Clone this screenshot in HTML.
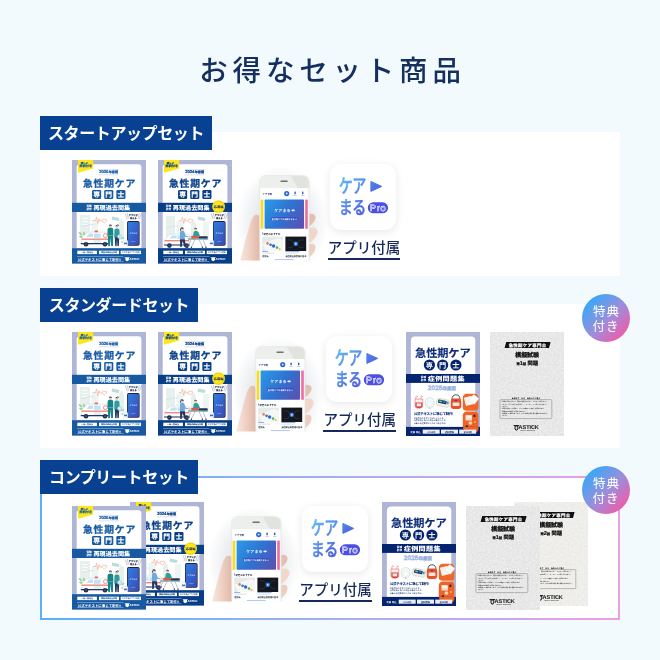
<!DOCTYPE html>
<html lang="ja">
<head>
<meta charset="utf-8">
<title>お得なセット商品</title>
<style>
html,body{margin:0;padding:0;}
body{width:660px;height:660px;overflow:hidden;background:#f2fafe;font-family:"Liberation Sans","Noto Sans CJK JP",sans-serif;}
#stage{will-change:transform;position:relative;width:660px;height:660px;overflow:hidden;background:#f2fafe;}
.abs{position:absolute;}
.abs svg{display:block;overflow:visible;}
svg text{font-family:"Liberation Sans","Noto Sans CJK JP",sans-serif;text-rendering:geometricPrecision;}
h1{position:absolute;left:0;top:51px;width:660px;margin:0;text-align:center;font-size:28.5px;line-height:40px;font-weight:500;letter-spacing:4.8px;color:#15305f;text-indent:5px;white-space:nowrap;}
.panel{position:absolute;left:40px;width:580px;height:144px;background:#fff;box-sizing:border-box;}
.panel.grad{background:linear-gradient(#fff,#fff) padding-box,linear-gradient(90deg,#5ab0fb 0%,#9fb0f0 48%,#eaa0e0 100%) border-box;border:2px solid transparent;}
.label{position:absolute;left:40px;height:34px;background:#084191;color:#fff;font-weight:700;font-size:16px;line-height:36px;letter-spacing:-0.4px;padding:0;text-indent:0px;white-space:nowrap;box-sizing:border-box;text-align:center;}
.badge{position:absolute;left:582px;width:48px;height:48px;border-radius:50%;background:linear-gradient(135deg,#2eaaf8 10%,#9a8fdc 52%,#fa55a4 92%);color:#fff;font-size:12.5px;line-height:15px;text-align:center;letter-spacing:1px;font-weight:400;box-sizing:border-box;padding-top:11px;text-indent:1px;z-index:5;}
.app{position:absolute;text-align:left;font-size:14.5px;line-height:20px;color:#14295a;font-weight:500;letter-spacing:0px;white-space:nowrap;}
.app span{display:inline-block;border-bottom:2px solid #14295a;padding:0;}
.icon{position:absolute;width:66px;height:66px;border-radius:11px;background:#fff;box-shadow:0 2px 9px rgba(30,30,40,.10);}
</style>
</head>
<body>
<div id="stage">
<h1>お得なセット商品</h1>

<div class="panel" style="top:132px"></div>
<div class="label" style="top:116px;width:172px">スタートアップセット</div>
<div class="panel" style="top:304px"></div>
<div class="label" style="top:288px;width:158px">スタンダードセット</div>
<div class="badge" style="top:294px">特典<br>付き</div>
<div class="panel grad" style="top:476px"></div>
<div class="label" style="top:460px;width:158px">コンプリートセット</div>
<div class="badge" style="top:466px">特典<br>付き</div>
<div class="abs" style="left:72px;top:160px;z-index:1"><svg width="592" height="832" viewBox="0 0 74 104" style="transform:scale(0.125);transform-origin:0 0"><defs><linearGradient id="a1pm" x1="0" y1="0" x2="1" y2="1"><stop offset="0" stop-color="#2f7fe0"/><stop offset="1" stop-color="#3b49b4"/></linearGradient></defs><rect width="74" height="104" fill="#afb6d5"/><path d="M4.7,88.4 V7.4 Q4.7,4.2 7.9,4.2 H66.2 Q69.4,4.2 69.4,7.4 V88.4 Z" fill="#fff"/><path d="M6,0 H21.2 V8.6 L6,12.8 Z" fill="#ffe61a"/><text x="12.4" y="3.7" font-size="2.5" font-weight="700" fill="#185ba4" text-anchor="middle" letter-spacing="0.0" stroke="#185ba4" stroke-width="0.14">詳しい</text><text x="13.8" y="7.4" font-size="3.1" font-weight="700" fill="#185ba4" text-anchor="middle" letter-spacing="0.05" stroke="#185ba4" stroke-width="0.14">解説付き</text><rect x="26.4" y="9.1" width="20.6" height="0.6" fill="#bfd0ee"/><rect x="26.4" y="14.6" width="20.6" height="0.6" fill="#bfd0ee"/><text x="27.2" y="13.45" text-anchor="start" fill="#185ba4" stroke="#185ba4" stroke-width="0.22" font-weight="900" font-size="4.2" letter-spacing="-0.02">2026<tspan font-size="3.0" dx="0.35" letter-spacing="0.05">年度版</tspan></text><text x="37.5" y="27.0" font-size="9.8" font-weight="700" fill="#185ba4" text-anchor="middle" letter-spacing="0.85" stroke="#185ba4" stroke-width="0.28">急性期ケア</text><rect x="20.05" y="30" width="9.1" height="9" rx="1.2" fill="#175aa2"/><text x="24.6" y="37.0" font-size="6.8" font-weight="900" fill="#fff" text-anchor="middle">専</text><rect x="32.2" y="30" width="9.1" height="9" rx="1.2" fill="#175aa2"/><text x="36.75" y="37.0" font-size="6.8" font-weight="900" fill="#fff" text-anchor="middle">門</text><rect x="44.35" y="30" width="9.1" height="9" rx="1.2" fill="#175aa2"/><text x="48.9" y="37.0" font-size="6.8" font-weight="900" fill="#fff" text-anchor="middle">士</text><rect x="0" y="42.8" width="74" height="9.2" fill="#175aa2"/><text x="14.4" y="46.6" font-size="2.7" font-weight="900" fill="#fff" text-anchor="start">受験</text><text x="14.4" y="49.8" font-size="2.7" font-weight="900" fill="#fff" text-anchor="start">必修</text><text x="21.4" y="50.1" font-size="6.1" font-weight="900" fill="#fff" text-anchor="start" letter-spacing="0.05">再現過去問集</text><g><rect x="8" y="55" width="10" height="22" fill="#e6f1ee"/><rect x="19.5" y="60" width="7" height="17" fill="#edf5f3"/><path d="M47,80 V62 L49.5,58 L52,62 V80 Z" fill="#e6f1ee"/><rect x="10" y="58" width="6" height="0.8" fill="#fff"/><rect x="10" y="61" width="6" height="0.8" fill="#fff"/><rect x="10" y="64" width="6" height="0.8" fill="#fff"/><path d="M21,60.5 H23.5 L24.5,57 L25.8,63.5 L27,58.5 L27.8,61 H30 C30,58.8 32.2,58.6 32.4,60 C32.8,58.6 34.8,58.8 34.6,60.4 C34.4,61.8 32.6,62.6 32.2,63 C31.6,62.4 30.4,61.6 30,60.8" fill="none" stroke="#ef8a6b" stroke-width="0.45" stroke-linejoin="round"/><rect x="39.8" y="57.2" width="7.4" height="3.2" rx="0.4" fill="#b9dcdc" transform="rotate(12 43.5 58.8)"/><path d="M10,66.5 Q16,64.2 22,64.6" fill="none" stroke="#c6cfe6" stroke-width="0.5"/><path d="M6.5,72 q2.5,0 4,3 q-3,0.5 -4,-3z M11,71.5 q2.6,1 2.6,4.2 q-2.8,-0.8 -2.6,-4.2z M7,76 q2.6,-0.6 4.2,1.6 q-2.8,1 -4.2,-1.6z M10.5,80 l0.8,-6" fill="#8fd08f" stroke="#8fd08f" stroke-width="0.2"/><path d="M49,79 q1.6,-2.6 3.6,-2 q-0.8,2.4 -3.6,2z M48.5,82 q2,-1.4 3.8,-0.2 q-1.6,1.6 -3.8,0.2z" fill="#8fd08f"/><path d="M9.6,83.8 V78.5 Q9.6,77.2 11,76.4 L14,73.4 Q14.8,72.2 16.4,72.2 H35 Q36.4,72.2 36.4,73.6 V83.8 Z" fill="#fff" stroke="#b9c3d6" stroke-width="0.35"/><path d="M14.6,77 L17,73.6 H21 V77 Z" fill="#bfe3f2"/><rect x="22" y="73.6" width="6.6" height="4.2" fill="#bfe3f2"/><rect x="9.6" y="78.6" width="26.8" height="1.1" fill="#ea6a5a"/><rect x="21.6" y="80" width="7.4" height="3.8" fill="#e3f0f6"/><rect x="22.6" y="70.6" width="3.4" height="1.6" rx="0.4" fill="#ea6a5a"/><circle cx="33.4" cy="75.6" r="2" fill="#fff" stroke="#e2695b" stroke-width="0.7"/><rect x="8.6" y="83" width="29" height="1.2" rx="0.4" fill="#24355f"/><circle cx="14" cy="84.2" r="2.3" fill="#1e2c56"/><circle cx="14" cy="84.2" r="0.9" fill="#4a5a86"/><circle cx="33" cy="84.2" r="2.3" fill="#1e2c56"/><circle cx="33" cy="84.2" r="0.9" fill="#4a5a86"/><circle cx="38.4" cy="66.2" r="1.35" fill="#f2c9ae"/><path d="M37,65.8 Q37,64.2 38.6,64.4 Q40,64.4 39.8,66 Q38.6,65 37,65.8z" fill="#23324f"/><path d="M35.6,69.4 Q35.8,68 37.2,67.8 H39.6 Q41,68 41.2,69.4 L41.4,75.6 H35.4 Z" fill="#178585"/><path d="M35.8,75.4 H41.2 L41,86 H39.2 L38.6,77.6 L38,86 H36.2 Z" fill="#178585"/><rect x="35.6" y="86" width="2.6" height="0.9" rx="0.4" fill="#e9eef5"/><rect x="39" y="86" width="2.6" height="0.9" rx="0.4" fill="#e9eef5"/><circle cx="44.8" cy="66.8" r="1.3" fill="#f2c9ae"/><path d="M43.4,66.4 Q43.4,64.8 45,64.9 Q46.6,65 46.2,67 Q45,65.6 43.4,66.4z M45.8,64.6 a0.8,0.8 0 1,0 0.1,0z" fill="#23324f"/><path d="M42.4,70 Q42.6,68.6 44,68.4 H45.8 Q47.2,68.6 47.4,70 L47.8,77.4 H42.2 Z" fill="#2f9d9d"/><path d="M42.8,77.2 H47.2 L46.8,86 H45.4 L45,79 L44.6,86 H43.2 Z" fill="#27345f"/><rect x="42.6" y="86" width="2.2" height="0.9" rx="0.4" fill="#e9eef5"/><rect x="45.2" y="86" width="2.2" height="0.9" rx="0.4" fill="#e9eef5"/><circle cx="47.6" cy="76.6" r="2.1" fill="#cfe8f6" stroke="#8fc4e6" stroke-width="0.5"/></g><g><rect x="55" y="61" width="12.6" height="24.8" rx="1.7" fill="#1d2440"/><rect x="55.7" y="61.9" width="11.2" height="23" rx="1.1" fill="url(#a1pm)"/><text x="61.3" y="73.6" font-size="1.9" font-weight="700" fill="#dbe7ff" text-anchor="middle">ケアまる</text><rect x="59.2" y="81.2" width="4.2" height="0.5" fill="#9db7ee"/><text x="61.3" y="55.6" font-size="2.25" font-weight="900" fill="#1c2546" text-anchor="middle" stroke="#1c2546" stroke-width="0.08">アプリが</text><text x="61.3" y="58.5" font-size="2.25" font-weight="900" fill="#1c2546" text-anchor="middle" stroke="#1c2546" stroke-width="0.08">使える</text><path d="M53.2,53.6 L55.3,59.4 M55.2,53 L56.6,58.8 M69.4,53.6 L67.3,59.4 M67.4,53 L66,58.8" stroke="#26304f" stroke-width="0.25" fill="none"/><rect x="51.2" y="80.4" width="4.6" height="4.6" rx="0.5" fill="#fff" stroke="#b4c6ea" stroke-width="0.3"/><rect x="52" y="82.6" width="3" height="1.6" fill="#3d6fd0"/></g><rect x="0" y="88.2" width="74" height="15.2" fill="#175aa2"/><rect x="5.3" y="90.7" width="19.599999999999998" height="3.4" fill="#fff"/><text x="15.1" y="93.3" font-size="2.0" font-weight="700" fill="#175aa2" text-anchor="middle">一問一答問題</text><rect x="27" y="90.7" width="20" height="3.4" fill="#fff"/><text x="37.0" y="93.3" font-size="2.0" font-weight="700" fill="#175aa2" text-anchor="middle">模擬試験問題収載</text><rect x="48.7" y="90.7" width="20.299999999999997" height="3.4" fill="#fff"/><text x="58.85" y="93.3" font-size="2.0" font-weight="700" fill="#175aa2" text-anchor="middle">スマホ版アプリ対応</text><rect x="5" y="96.2" width="46.4" height="0.4" fill="#dbe6f7"/><rect x="5" y="101.5" width="46.4" height="0.4" fill="#dbe6f7"/><text x="5.8" y="100.6" font-size="3.45" font-weight="700" fill="#fff" text-anchor="start" letter-spacing="0.0">公式テキストに準じて制作!!</text><g transform="translate(53.4,100.2) scale(0.78)"><path d="M0,-3.6 L4.6,-3.6 L4.6,-1.2 Q4.6,0.6 2.3,1.2 Q0,0.6 0,-1.2 Z" fill="#fff"/><path d="M-1.4,-3.9 L6,-3.9 L5.4,-3.1 L-0.8,-3.1 Z" fill="#fff"/><text x="5.2" y="0.2" font-size="3.6" font-weight="700" fill="#fff" text-anchor="start" letter-spacing="-0.1">ASTICK</text></g></svg></div>
<div class="abs" style="left:158px;top:160px;z-index:1"><svg width="592" height="832" viewBox="0 0 74 104" style="transform:scale(0.125);transform-origin:0 0"><defs><linearGradient id="a2pm" x1="0" y1="0" x2="1" y2="1"><stop offset="0" stop-color="#2f7fe0"/><stop offset="1" stop-color="#3b49b4"/></linearGradient></defs><rect width="74" height="104" fill="#afb6d5"/><path d="M4.7,88.4 V7.4 Q4.7,4.2 7.9,4.2 H66.2 Q69.4,4.2 69.4,7.4 V88.4 Z" fill="#fff"/><path d="M6,0 H21.2 V8.6 L6,12.8 Z" fill="#ffe61a"/><text x="12.4" y="3.7" font-size="2.5" font-weight="700" fill="#0b4089" text-anchor="middle" letter-spacing="0.0" stroke="#0b4089" stroke-width="0.14">詳しい</text><text x="13.8" y="7.4" font-size="3.1" font-weight="700" fill="#0b4089" text-anchor="middle" letter-spacing="0.05" stroke="#0b4089" stroke-width="0.14">解説付き</text><rect x="26.4" y="9.1" width="20.6" height="0.6" fill="#bfd0ee"/><rect x="26.4" y="14.6" width="20.6" height="0.6" fill="#bfd0ee"/><text x="27.2" y="13.45" text-anchor="start" fill="#0b4089" stroke="#0b4089" stroke-width="0.22" font-weight="900" font-size="4.2" letter-spacing="-0.02">2024<tspan font-size="3.0" dx="0.35" letter-spacing="0.05">年度版</tspan></text><text x="37.5" y="27.0" font-size="9.8" font-weight="700" fill="#0b4089" text-anchor="middle" letter-spacing="0.85" stroke="#0b4089" stroke-width="0.28">急性期ケア</text><rect x="20.05" y="30" width="9.1" height="9" rx="1.2" fill="#073e86"/><text x="24.6" y="37.0" font-size="6.8" font-weight="900" fill="#fff" text-anchor="middle">専</text><rect x="32.2" y="30" width="9.1" height="9" rx="1.2" fill="#073e86"/><text x="36.75" y="37.0" font-size="6.8" font-weight="900" fill="#fff" text-anchor="middle">門</text><rect x="44.35" y="30" width="9.1" height="9" rx="1.2" fill="#073e86"/><text x="48.9" y="37.0" font-size="6.8" font-weight="900" fill="#fff" text-anchor="middle">士</text><rect x="0" y="42.8" width="74" height="9.2" fill="#073e86"/><text x="7.8" y="46.6" font-size="2.7" font-weight="900" fill="#fff" text-anchor="start">受験</text><text x="7.8" y="49.8" font-size="2.7" font-weight="900" fill="#fff" text-anchor="start">必修</text><text x="14.8" y="50.1" font-size="6.1" font-weight="900" fill="#fff" text-anchor="start" letter-spacing="0.05">再現過去問集</text><circle cx="60.6" cy="46.6" r="6.45" fill="#ffe61a"/><circle cx="60.6" cy="46.6" r="5.4" fill="none" stroke="#26304f" stroke-width="0.2" stroke-dasharray="0.5 0.4"/><text x="60.6" y="47.8" font-size="3.2" font-weight="900" fill="#1c2d5c" text-anchor="middle">応用編</text><g><rect x="8" y="56" width="9" height="24" fill="#e6f1ee"/><rect x="18.5" y="61" width="7" height="19" fill="#edf5f3"/><path d="M33,80 V64 L35.5,60 L38,64 V80 Z" fill="#e6f1ee"/><rect x="45" y="62" width="6" height="18" fill="#edf5f3"/><path d="M21,60.5 H23.5 L24.5,57 L25.8,63.5 L27,58.5 L27.8,61 H30 C30,58.8 32.2,58.6 32.4,60 C32.8,58.6 34.8,58.8 34.6,60.4 C34.4,61.8 32.6,62.6 32.2,63 C31.6,62.4 30.4,61.6 30,60.8" fill="none" stroke="#ef8a6b" stroke-width="0.45" stroke-linejoin="round"/><rect x="39.8" y="57.2" width="7.4" height="3.2" rx="0.4" fill="#b9dcdc" transform="rotate(12 43.5 58.8)"/><path d="M8,68 Q14,65.6 20,66" fill="none" stroke="#c6cfe6" stroke-width="0.5"/><path d="M6.6,85 V80 Q6.6,78.6 8,77.8 L11.4,75 Q12.2,74.2 13.6,74.2 H30 Q31,74.2 31,75.4 V85 Z" fill="#fff" stroke="#b9c3d6" stroke-width="0.35"/><path d="M11.4,78.6 L14,75.4 H18.6 V78.6 Z" fill="#bfe3f2"/><rect x="19.6" y="75.4" width="5" height="3.6" fill="#bfe3f2"/><rect x="6.6" y="80.2" width="24.4" height="1.1" fill="#ea6a5a"/><rect x="6" y="84.4" width="26" height="1.2" rx="0.4" fill="#24355f"/><circle cx="11.4" cy="85.6" r="2.3" fill="#1e2c56"/><circle cx="11.4" cy="85.6" r="0.9" fill="#4a5a86"/><circle cx="28.6" cy="85.6" r="2.3" fill="#1e2c56"/><circle cx="28.6" cy="85.6" r="0.9" fill="#4a5a86"/><circle cx="24" cy="69.2" r="1.4" fill="#f2c9ae"/><path d="M22.4,69 Q22.2,67 24.2,67.2 Q26,67.4 25.6,69.6 Q24.2,68 22.4,69z M22.6,68.6 q-1,1.2 -0.6,2.6 q0.8,-0.6 1,-1.6z" fill="#23324f"/><path d="M22,72.4 Q22.2,71 23.6,70.8 H25 Q26.4,71 26.6,72.4 L27.6,75.6 L30.4,76.4 L30.2,77.2 L26.8,76.8 L26.8,79.4 H22 Z" fill="#6fa9de"/><path d="M22,79.2 H26.8 L28,87 H26.6 L24.6,81 L23.6,87 H22.2 Z" fill="#27345f"/><rect x="30" y="78.6" width="20" height="1" rx="0.4" fill="#2b8a9a"/><path d="M33,79.6 L29.6,87 M37,79.6 L33.4,87 M45,79.6 L48,87 M41,79.6 L44.4,87" stroke="#7a8aa6" stroke-width="0.5" fill="none"/><circle cx="29.6" cy="87.2" r="0.7" fill="#24355f"/><circle cx="48" cy="87.2" r="0.7" fill="#24355f"/><circle cx="33.4" cy="87.2" r="0.7" fill="#24355f"/><circle cx="44.4" cy="87.2" r="0.7" fill="#24355f"/><circle cx="31.8" cy="76.8" r="1.2" fill="#f2c9ae"/><rect x="33.2" y="75.8" width="7.4" height="2.6" rx="1" fill="#e2573f"/><rect x="40.4" y="76.2" width="9.4" height="2.2" rx="0.9" fill="#2a3352"/><circle cx="37.6" cy="69.6" r="1.3" fill="#f2c9ae"/><path d="M36.2,69.2 Q36.2,67.6 37.8,67.8 Q39.2,67.8 39,69.4 Q37.8,68.4 36.2,69.2z" fill="#6b4a3a"/><path d="M35.6,72.6 Q35.8,71.2 37.2,71 H38.6 Q40.2,71.2 40.6,72.6 L42,76 H35.2 Z" fill="#2f9d9d"/></g><g><rect x="55" y="61" width="12.6" height="24.8" rx="1.7" fill="#1d2440"/><rect x="55.7" y="61.9" width="11.2" height="23" rx="1.1" fill="url(#a2pm)"/><text x="61.3" y="73.6" font-size="1.9" font-weight="700" fill="#dbe7ff" text-anchor="middle">ケアまる</text><rect x="59.2" y="81.2" width="4.2" height="0.5" fill="#9db7ee"/><text x="61.3" y="55.6" font-size="2.25" font-weight="900" fill="#1c2546" text-anchor="middle" stroke="#1c2546" stroke-width="0.08">アプリが</text><text x="61.3" y="58.5" font-size="2.25" font-weight="900" fill="#1c2546" text-anchor="middle" stroke="#1c2546" stroke-width="0.08">使える</text><path d="M53.2,53.6 L55.3,59.4 M55.2,53 L56.6,58.8 M69.4,53.6 L67.3,59.4 M67.4,53 L66,58.8" stroke="#26304f" stroke-width="0.25" fill="none"/><rect x="51.2" y="80.4" width="4.6" height="4.6" rx="0.5" fill="#fff" stroke="#b4c6ea" stroke-width="0.3"/><rect x="52" y="82.6" width="3" height="1.6" fill="#3d6fd0"/></g><rect x="0" y="88.2" width="74" height="15.2" fill="#073e86"/><rect x="5.3" y="90.7" width="19.599999999999998" height="3.4" fill="#fff"/><text x="15.1" y="93.3" font-size="2.0" font-weight="700" fill="#073e86" text-anchor="middle">一問一答問題</text><rect x="27" y="90.7" width="20" height="3.4" fill="#fff"/><text x="37.0" y="93.3" font-size="2.0" font-weight="700" fill="#073e86" text-anchor="middle">模擬試験問題収載</text><rect x="48.7" y="90.7" width="20.299999999999997" height="3.4" fill="#fff"/><text x="58.85" y="93.3" font-size="2.0" font-weight="700" fill="#073e86" text-anchor="middle">スマホ版アプリ対応</text><rect x="5" y="96.2" width="46.4" height="0.4" fill="#dbe6f7"/><rect x="5" y="101.5" width="46.4" height="0.4" fill="#dbe6f7"/><text x="5.8" y="100.6" font-size="3.45" font-weight="700" fill="#fff" text-anchor="start" letter-spacing="0.0">公式テキストに準じて制作!!</text><g transform="translate(53.4,100.2) scale(0.78)"><path d="M0,-3.6 L4.6,-3.6 L4.6,-1.2 Q4.6,0.6 2.3,1.2 Q0,0.6 0,-1.2 Z" fill="#fff"/><path d="M-1.4,-3.9 L6,-3.9 L5.4,-3.1 L-0.8,-3.1 Z" fill="#fff"/><text x="5.2" y="0.2" font-size="3.6" font-weight="700" fill="#fff" text-anchor="start" letter-spacing="-0.1">ASTICK</text></g></svg></div>
<div class="abs" style="left:236px;top:166px;z-index:1"><svg width="720" height="768" viewBox="0 0 90 96" style="transform:scale(0.125);transform-origin:0 0"><defs><clipPath id="p3c"><rect x="0" y="0" width="90" height="94.4"/></clipPath><linearGradient id="p3b" x1="0" y1="0.25" x2="1" y2="0.75"><stop offset="0" stop-color="#2b95e3"/><stop offset="0.5" stop-color="#2f72d2"/><stop offset="1" stop-color="#5654b4"/></linearGradient><linearGradient id="p3h" x1="0" y1="0" x2="1" y2="0"><stop offset="0" stop-color="#f8e8e0"/><stop offset="0.5" stop-color="#efd0c3"/><stop offset="1" stop-color="#e0b7a7"/></linearGradient><radialGradient id="p3s" cx="0.5" cy="0.5" r="0.5"><stop offset="0.6" stop-color="#d9dde2" stop-opacity="0.55"/><stop offset="1" stop-color="#d9dde2" stop-opacity="0"/></radialGradient><filter id="p3f" x="-20%" y="-20%" width="140%" height="140%"><feGaussianBlur stdDeviation="0.6"/></filter></defs><g clip-path="url(#p3c)"><ellipse cx="46" cy="56" rx="46" ry="56" fill="url(#p3s)"/><g filter="url(#p3f)"><path d="M72,48 Q78.6,46.6 79.6,51 Q79.8,55.6 73,60.4 Z" fill="#e3bfb0"/><path d="M72,62.6 Q80.4,59.6 81.6,65.4 Q81.6,71 73,77.4 Z" fill="#f1d6ca"/><path d="M72,78.6 Q78.6,76 79.6,81 Q79.4,86 73,91.6 Z" fill="#eccdc0"/><path d="M23.4,49.8 Q20.4,47.6 17.8,49.8 Q14.8,54 13.4,60 L9.4,74.6 L5.5,89 L3.8,96 H24 Z" fill="url(#p3h)"/></g><path d="M23.6,100 V16 Q23.6,9.5 30,9.5 H66.8 Q73.2,9.5 73.2,16 V100 Z" fill="#f6f7f5" stroke="#dfe1de" stroke-width="0.5"/><path d="M24.2,22.2 V16 Q24.2,10 30,10 H66.8 Q72.6,10 72.6,16 V22.2 Z" fill="#edefec"/><path d="M55,10 H66.8 Q72.6,10 72.6,16 V22.2 H62 Z" fill="#e0e3de"/><rect x="44.4" y="14.6" width="7.4" height="1.3" rx="0.65" fill="#6d716f"/><rect x="24.6" y="22.2" width="47.2" height="74" fill="#fff"/><text x="26.6" y="28.6" font-size="2.6" font-weight="700" fill="#4a5674" text-anchor="start" letter-spacing="-0.2">ケアまる</text><rect x="33.6" y="27" width="2" height="1.2" rx="0.6" fill="#4a50e2"/><circle cx="50.7" cy="27.6" r="2.6" fill="#2a66d6"/><circle cx="50.7" cy="27.6" r="1" fill="#cfe0ff"/><rect x="58.4" y="25.6" width="1.4" height="2.6" rx="0.5" fill="#2a5fc8"/><rect x="57.4" y="29" width="3.4" height="0.5" fill="#9aa7c4"/><rect x="66" y="25.6" width="1.4" height="2.6" rx="0.5" fill="#2a5fc8"/><rect x="65" y="29" width="3.4" height="0.5" fill="#9aa7c4"/><rect x="24.6" y="33.6" width="2.8" height="29.2" fill="#f4dc2e"/><rect x="28.6" y="33.6" width="39.4" height="29.2" rx="0.8" fill="url(#p3b)"/><rect x="69.2" y="33.6" width="2.6" height="29.2" fill="#ee6aa6"/><text x="46.4" y="46.0" font-size="4.0" font-weight="700" fill="#e6f2ff" text-anchor="middle" letter-spacing="0.1">ケアまる</text><rect x="55.4" y="43.4" width="3.4" height="1.8" rx="0.9" fill="#e6f2ff"/><rect x="34.8" y="50.9" width="27.4" height="3.3" rx="1.65" fill="#3a4fc0" opacity="0.8"/><text x="48.4" y="53.5" font-size="2.0" font-weight="700" fill="#fff" text-anchor="middle" letter-spacing="0.1">急性期ケアを動画でまなぶ</text><rect x="26.3" y="66.2" width="0.5" height="2.6" fill="#2a66d6"/><text x="27.6" y="68.5" font-size="2.4" font-weight="700" fill="#222b3a" text-anchor="start">新着のおすすめ</text><rect x="26.2" y="70.6" width="20.8" height="14.4" fill="#e4e9ec"/><path d="M26.2,78 L42,72 L47,74 V85 H30 Z" fill="#f6f7f5"/><circle cx="31.6" cy="77.4" r="1.3" fill="#e8803a"/><circle cx="34.6" cy="78.8" r="1.4" fill="#3a7fd0"/><circle cx="37.6" cy="80" r="1.7" fill="#2a66d6"/><circle cx="41" cy="81.6" r="1.3" fill="#4fb06a"/><circle cx="43.6" cy="83" r="1.1" fill="#e8c23a"/><rect x="49.4" y="70.6" width="20.8" height="14.4" fill="#14171e"/><circle cx="59.8" cy="77.8" r="2.2" fill="#2f7fe6"/><circle cx="59.8" cy="77.8" r="0.9" fill="#cfe4ff"/><path d="M52,74 H56 L57.6,77 M52,81.6 H56 L57.6,78.6 M67.6,74 H63.6 L62,77 M67.6,81.6 H63.6 L62,78.6" stroke="#5c6675" stroke-width="0.3" fill="none"/><rect x="26.2" y="85.2" width="6" height="0.5" fill="#2a66d6"/><rect x="49.4" y="85.2" width="14" height="0.5" fill="#2a66d6"/><rect x="26.2" y="86.8" width="12" height="0.5" fill="#b9bec6"/><rect x="49.4" y="86.8" width="13" height="0.5" fill="#b9bec6"/><text x="26.2" y="90.6" font-size="2.2" font-weight="700" fill="#222b3a" text-anchor="start">症例集</text><text x="49.4" y="90.6" font-size="2.2" font-weight="700" fill="#222b3a" text-anchor="start" letter-spacing="-0.1">急性期全身管理の基本</text><rect x="38.8" y="93.2" width="19" height="0.7" fill="#8fb6ee"/></g></svg></div>
<div class="icon" style="left:330px;top:164px"><svg width="528" height="528" viewBox="0 0 66 66" style="transform:scale(0.125);transform-origin:0 0"><defs><linearGradient id="g4" gradientUnits="userSpaceOnUse" x1="10" y1="14" x2="52" y2="52"><stop offset="0" stop-color="#60bcf0"/><stop offset="0.36" stop-color="#5690ea"/><stop offset="0.62" stop-color="#4e6ae4"/><stop offset="1" stop-color="#4a4fe0"/></linearGradient><linearGradient id="g4a" gradientUnits="userSpaceOnUse" x1="10" y1="14" x2="52" y2="52" gradientTransform="scale(1.3986,1) translate(-8.7,-28.5)"><stop offset="0" stop-color="#60bcf0"/><stop offset="0.36" stop-color="#5690ea"/><stop offset="0.62" stop-color="#4e6ae4"/><stop offset="1" stop-color="#4a4fe0"/></linearGradient><linearGradient id="g4b" gradientUnits="userSpaceOnUse" x1="10" y1="14" x2="52" y2="52" gradientTransform="scale(1.31579,1) translate(-8.7,-49.6)"><stop offset="0" stop-color="#60bcf0"/><stop offset="0.36" stop-color="#5690ea"/><stop offset="0.62" stop-color="#4e6ae4"/><stop offset="1" stop-color="#4a4fe0"/></linearGradient></defs><text transform="translate(8.7,28.5) scale(0.715,1)" font-size="19.6" font-weight="500" letter-spacing="-0.7" fill="url(#g4a)" stroke="url(#g4a)" stroke-width="0.45">ケア</text><text transform="translate(8.7,49.6) scale(0.76,1)" font-size="18.4" font-weight="500" letter-spacing="-0.6" fill="url(#g4b)" stroke="url(#g4b)" stroke-width="0.45">まる</text><path d="M40.9,17.4 L51.6,22.4 L40.9,27.4 Z" fill="url(#g4)" stroke="url(#g4)" stroke-width="1" stroke-linejoin="round"/><rect x="37.8" y="38.3" width="20.3" height="11" rx="5.5" fill="#4b4fe2"/><text x="48.1" y="47.2" font-size="9" font-weight="400" fill="#fff" stroke="#fff" stroke-width="0.7" stroke-linejoin="round" text-anchor="middle" letter-spacing="0.9">Pro</text><text x="48.1" y="47.2" font-size="9" font-weight="400" fill="#4b4fe2" text-anchor="middle" letter-spacing="0.9" opacity="0.6">Pro</text></svg></div><div class="app" style="left:327.8px;top:238px"><span>アプリ付属</span></div>
<div class="abs" style="left:72px;top:332px;z-index:1"><svg width="592" height="832" viewBox="0 0 74 104" style="transform:scale(0.125);transform-origin:0 0"><defs><linearGradient id="a5pm" x1="0" y1="0" x2="1" y2="1"><stop offset="0" stop-color="#2f7fe0"/><stop offset="1" stop-color="#3b49b4"/></linearGradient></defs><rect width="74" height="104" fill="#afb6d5"/><path d="M4.7,88.4 V7.4 Q4.7,4.2 7.9,4.2 H66.2 Q69.4,4.2 69.4,7.4 V88.4 Z" fill="#fff"/><path d="M6,0 H21.2 V8.6 L6,12.8 Z" fill="#ffe61a"/><text x="12.4" y="3.7" font-size="2.5" font-weight="700" fill="#185ba4" text-anchor="middle" letter-spacing="0.0" stroke="#185ba4" stroke-width="0.14">詳しい</text><text x="13.8" y="7.4" font-size="3.1" font-weight="700" fill="#185ba4" text-anchor="middle" letter-spacing="0.05" stroke="#185ba4" stroke-width="0.14">解説付き</text><rect x="26.4" y="9.1" width="20.6" height="0.6" fill="#bfd0ee"/><rect x="26.4" y="14.6" width="20.6" height="0.6" fill="#bfd0ee"/><text x="27.2" y="13.45" text-anchor="start" fill="#185ba4" stroke="#185ba4" stroke-width="0.22" font-weight="900" font-size="4.2" letter-spacing="-0.02">2026<tspan font-size="3.0" dx="0.35" letter-spacing="0.05">年度版</tspan></text><text x="37.5" y="27.0" font-size="9.8" font-weight="700" fill="#185ba4" text-anchor="middle" letter-spacing="0.85" stroke="#185ba4" stroke-width="0.28">急性期ケア</text><rect x="20.05" y="30" width="9.1" height="9" rx="1.2" fill="#175aa2"/><text x="24.6" y="37.0" font-size="6.8" font-weight="900" fill="#fff" text-anchor="middle">専</text><rect x="32.2" y="30" width="9.1" height="9" rx="1.2" fill="#175aa2"/><text x="36.75" y="37.0" font-size="6.8" font-weight="900" fill="#fff" text-anchor="middle">門</text><rect x="44.35" y="30" width="9.1" height="9" rx="1.2" fill="#175aa2"/><text x="48.9" y="37.0" font-size="6.8" font-weight="900" fill="#fff" text-anchor="middle">士</text><rect x="0" y="42.8" width="74" height="9.2" fill="#175aa2"/><text x="14.4" y="46.6" font-size="2.7" font-weight="900" fill="#fff" text-anchor="start">受験</text><text x="14.4" y="49.8" font-size="2.7" font-weight="900" fill="#fff" text-anchor="start">必修</text><text x="21.4" y="50.1" font-size="6.1" font-weight="900" fill="#fff" text-anchor="start" letter-spacing="0.05">再現過去問集</text><g><rect x="8" y="55" width="10" height="22" fill="#e6f1ee"/><rect x="19.5" y="60" width="7" height="17" fill="#edf5f3"/><path d="M47,80 V62 L49.5,58 L52,62 V80 Z" fill="#e6f1ee"/><rect x="10" y="58" width="6" height="0.8" fill="#fff"/><rect x="10" y="61" width="6" height="0.8" fill="#fff"/><rect x="10" y="64" width="6" height="0.8" fill="#fff"/><path d="M21,60.5 H23.5 L24.5,57 L25.8,63.5 L27,58.5 L27.8,61 H30 C30,58.8 32.2,58.6 32.4,60 C32.8,58.6 34.8,58.8 34.6,60.4 C34.4,61.8 32.6,62.6 32.2,63 C31.6,62.4 30.4,61.6 30,60.8" fill="none" stroke="#ef8a6b" stroke-width="0.45" stroke-linejoin="round"/><rect x="39.8" y="57.2" width="7.4" height="3.2" rx="0.4" fill="#b9dcdc" transform="rotate(12 43.5 58.8)"/><path d="M10,66.5 Q16,64.2 22,64.6" fill="none" stroke="#c6cfe6" stroke-width="0.5"/><path d="M6.5,72 q2.5,0 4,3 q-3,0.5 -4,-3z M11,71.5 q2.6,1 2.6,4.2 q-2.8,-0.8 -2.6,-4.2z M7,76 q2.6,-0.6 4.2,1.6 q-2.8,1 -4.2,-1.6z M10.5,80 l0.8,-6" fill="#8fd08f" stroke="#8fd08f" stroke-width="0.2"/><path d="M49,79 q1.6,-2.6 3.6,-2 q-0.8,2.4 -3.6,2z M48.5,82 q2,-1.4 3.8,-0.2 q-1.6,1.6 -3.8,0.2z" fill="#8fd08f"/><path d="M9.6,83.8 V78.5 Q9.6,77.2 11,76.4 L14,73.4 Q14.8,72.2 16.4,72.2 H35 Q36.4,72.2 36.4,73.6 V83.8 Z" fill="#fff" stroke="#b9c3d6" stroke-width="0.35"/><path d="M14.6,77 L17,73.6 H21 V77 Z" fill="#bfe3f2"/><rect x="22" y="73.6" width="6.6" height="4.2" fill="#bfe3f2"/><rect x="9.6" y="78.6" width="26.8" height="1.1" fill="#ea6a5a"/><rect x="21.6" y="80" width="7.4" height="3.8" fill="#e3f0f6"/><rect x="22.6" y="70.6" width="3.4" height="1.6" rx="0.4" fill="#ea6a5a"/><circle cx="33.4" cy="75.6" r="2" fill="#fff" stroke="#e2695b" stroke-width="0.7"/><rect x="8.6" y="83" width="29" height="1.2" rx="0.4" fill="#24355f"/><circle cx="14" cy="84.2" r="2.3" fill="#1e2c56"/><circle cx="14" cy="84.2" r="0.9" fill="#4a5a86"/><circle cx="33" cy="84.2" r="2.3" fill="#1e2c56"/><circle cx="33" cy="84.2" r="0.9" fill="#4a5a86"/><circle cx="38.4" cy="66.2" r="1.35" fill="#f2c9ae"/><path d="M37,65.8 Q37,64.2 38.6,64.4 Q40,64.4 39.8,66 Q38.6,65 37,65.8z" fill="#23324f"/><path d="M35.6,69.4 Q35.8,68 37.2,67.8 H39.6 Q41,68 41.2,69.4 L41.4,75.6 H35.4 Z" fill="#178585"/><path d="M35.8,75.4 H41.2 L41,86 H39.2 L38.6,77.6 L38,86 H36.2 Z" fill="#178585"/><rect x="35.6" y="86" width="2.6" height="0.9" rx="0.4" fill="#e9eef5"/><rect x="39" y="86" width="2.6" height="0.9" rx="0.4" fill="#e9eef5"/><circle cx="44.8" cy="66.8" r="1.3" fill="#f2c9ae"/><path d="M43.4,66.4 Q43.4,64.8 45,64.9 Q46.6,65 46.2,67 Q45,65.6 43.4,66.4z M45.8,64.6 a0.8,0.8 0 1,0 0.1,0z" fill="#23324f"/><path d="M42.4,70 Q42.6,68.6 44,68.4 H45.8 Q47.2,68.6 47.4,70 L47.8,77.4 H42.2 Z" fill="#2f9d9d"/><path d="M42.8,77.2 H47.2 L46.8,86 H45.4 L45,79 L44.6,86 H43.2 Z" fill="#27345f"/><rect x="42.6" y="86" width="2.2" height="0.9" rx="0.4" fill="#e9eef5"/><rect x="45.2" y="86" width="2.2" height="0.9" rx="0.4" fill="#e9eef5"/><circle cx="47.6" cy="76.6" r="2.1" fill="#cfe8f6" stroke="#8fc4e6" stroke-width="0.5"/></g><g><rect x="55" y="61" width="12.6" height="24.8" rx="1.7" fill="#1d2440"/><rect x="55.7" y="61.9" width="11.2" height="23" rx="1.1" fill="url(#a5pm)"/><text x="61.3" y="73.6" font-size="1.9" font-weight="700" fill="#dbe7ff" text-anchor="middle">ケアまる</text><rect x="59.2" y="81.2" width="4.2" height="0.5" fill="#9db7ee"/><text x="61.3" y="55.6" font-size="2.25" font-weight="900" fill="#1c2546" text-anchor="middle" stroke="#1c2546" stroke-width="0.08">アプリが</text><text x="61.3" y="58.5" font-size="2.25" font-weight="900" fill="#1c2546" text-anchor="middle" stroke="#1c2546" stroke-width="0.08">使える</text><path d="M53.2,53.6 L55.3,59.4 M55.2,53 L56.6,58.8 M69.4,53.6 L67.3,59.4 M67.4,53 L66,58.8" stroke="#26304f" stroke-width="0.25" fill="none"/><rect x="51.2" y="80.4" width="4.6" height="4.6" rx="0.5" fill="#fff" stroke="#b4c6ea" stroke-width="0.3"/><rect x="52" y="82.6" width="3" height="1.6" fill="#3d6fd0"/></g><rect x="0" y="88.2" width="74" height="15.2" fill="#175aa2"/><rect x="5.3" y="90.7" width="19.599999999999998" height="3.4" fill="#fff"/><text x="15.1" y="93.3" font-size="2.0" font-weight="700" fill="#175aa2" text-anchor="middle">一問一答問題</text><rect x="27" y="90.7" width="20" height="3.4" fill="#fff"/><text x="37.0" y="93.3" font-size="2.0" font-weight="700" fill="#175aa2" text-anchor="middle">模擬試験問題収載</text><rect x="48.7" y="90.7" width="20.299999999999997" height="3.4" fill="#fff"/><text x="58.85" y="93.3" font-size="2.0" font-weight="700" fill="#175aa2" text-anchor="middle">スマホ版アプリ対応</text><rect x="5" y="96.2" width="46.4" height="0.4" fill="#dbe6f7"/><rect x="5" y="101.5" width="46.4" height="0.4" fill="#dbe6f7"/><text x="5.8" y="100.6" font-size="3.45" font-weight="700" fill="#fff" text-anchor="start" letter-spacing="0.0">公式テキストに準じて制作!!</text><g transform="translate(53.4,100.2) scale(0.78)"><path d="M0,-3.6 L4.6,-3.6 L4.6,-1.2 Q4.6,0.6 2.3,1.2 Q0,0.6 0,-1.2 Z" fill="#fff"/><path d="M-1.4,-3.9 L6,-3.9 L5.4,-3.1 L-0.8,-3.1 Z" fill="#fff"/><text x="5.2" y="0.2" font-size="3.6" font-weight="700" fill="#fff" text-anchor="start" letter-spacing="-0.1">ASTICK</text></g></svg></div>
<div class="abs" style="left:158px;top:332px;z-index:1"><svg width="592" height="832" viewBox="0 0 74 104" style="transform:scale(0.125);transform-origin:0 0"><defs><linearGradient id="a6pm" x1="0" y1="0" x2="1" y2="1"><stop offset="0" stop-color="#2f7fe0"/><stop offset="1" stop-color="#3b49b4"/></linearGradient></defs><rect width="74" height="104" fill="#afb6d5"/><path d="M4.7,88.4 V7.4 Q4.7,4.2 7.9,4.2 H66.2 Q69.4,4.2 69.4,7.4 V88.4 Z" fill="#fff"/><path d="M6,0 H21.2 V8.6 L6,12.8 Z" fill="#ffe61a"/><text x="12.4" y="3.7" font-size="2.5" font-weight="700" fill="#0b4089" text-anchor="middle" letter-spacing="0.0" stroke="#0b4089" stroke-width="0.14">詳しい</text><text x="13.8" y="7.4" font-size="3.1" font-weight="700" fill="#0b4089" text-anchor="middle" letter-spacing="0.05" stroke="#0b4089" stroke-width="0.14">解説付き</text><rect x="26.4" y="9.1" width="20.6" height="0.6" fill="#bfd0ee"/><rect x="26.4" y="14.6" width="20.6" height="0.6" fill="#bfd0ee"/><text x="27.2" y="13.45" text-anchor="start" fill="#0b4089" stroke="#0b4089" stroke-width="0.22" font-weight="900" font-size="4.2" letter-spacing="-0.02">2024<tspan font-size="3.0" dx="0.35" letter-spacing="0.05">年度版</tspan></text><text x="37.5" y="27.0" font-size="9.8" font-weight="700" fill="#0b4089" text-anchor="middle" letter-spacing="0.85" stroke="#0b4089" stroke-width="0.28">急性期ケア</text><rect x="20.05" y="30" width="9.1" height="9" rx="1.2" fill="#073e86"/><text x="24.6" y="37.0" font-size="6.8" font-weight="900" fill="#fff" text-anchor="middle">専</text><rect x="32.2" y="30" width="9.1" height="9" rx="1.2" fill="#073e86"/><text x="36.75" y="37.0" font-size="6.8" font-weight="900" fill="#fff" text-anchor="middle">門</text><rect x="44.35" y="30" width="9.1" height="9" rx="1.2" fill="#073e86"/><text x="48.9" y="37.0" font-size="6.8" font-weight="900" fill="#fff" text-anchor="middle">士</text><rect x="0" y="42.8" width="74" height="9.2" fill="#073e86"/><text x="7.8" y="46.6" font-size="2.7" font-weight="900" fill="#fff" text-anchor="start">受験</text><text x="7.8" y="49.8" font-size="2.7" font-weight="900" fill="#fff" text-anchor="start">必修</text><text x="14.8" y="50.1" font-size="6.1" font-weight="900" fill="#fff" text-anchor="start" letter-spacing="0.05">再現過去問集</text><circle cx="60.6" cy="46.6" r="6.45" fill="#ffe61a"/><circle cx="60.6" cy="46.6" r="5.4" fill="none" stroke="#26304f" stroke-width="0.2" stroke-dasharray="0.5 0.4"/><text x="60.6" y="47.8" font-size="3.2" font-weight="900" fill="#1c2d5c" text-anchor="middle">応用編</text><g><rect x="8" y="56" width="9" height="24" fill="#e6f1ee"/><rect x="18.5" y="61" width="7" height="19" fill="#edf5f3"/><path d="M33,80 V64 L35.5,60 L38,64 V80 Z" fill="#e6f1ee"/><rect x="45" y="62" width="6" height="18" fill="#edf5f3"/><path d="M21,60.5 H23.5 L24.5,57 L25.8,63.5 L27,58.5 L27.8,61 H30 C30,58.8 32.2,58.6 32.4,60 C32.8,58.6 34.8,58.8 34.6,60.4 C34.4,61.8 32.6,62.6 32.2,63 C31.6,62.4 30.4,61.6 30,60.8" fill="none" stroke="#ef8a6b" stroke-width="0.45" stroke-linejoin="round"/><rect x="39.8" y="57.2" width="7.4" height="3.2" rx="0.4" fill="#b9dcdc" transform="rotate(12 43.5 58.8)"/><path d="M8,68 Q14,65.6 20,66" fill="none" stroke="#c6cfe6" stroke-width="0.5"/><path d="M6.6,85 V80 Q6.6,78.6 8,77.8 L11.4,75 Q12.2,74.2 13.6,74.2 H30 Q31,74.2 31,75.4 V85 Z" fill="#fff" stroke="#b9c3d6" stroke-width="0.35"/><path d="M11.4,78.6 L14,75.4 H18.6 V78.6 Z" fill="#bfe3f2"/><rect x="19.6" y="75.4" width="5" height="3.6" fill="#bfe3f2"/><rect x="6.6" y="80.2" width="24.4" height="1.1" fill="#ea6a5a"/><rect x="6" y="84.4" width="26" height="1.2" rx="0.4" fill="#24355f"/><circle cx="11.4" cy="85.6" r="2.3" fill="#1e2c56"/><circle cx="11.4" cy="85.6" r="0.9" fill="#4a5a86"/><circle cx="28.6" cy="85.6" r="2.3" fill="#1e2c56"/><circle cx="28.6" cy="85.6" r="0.9" fill="#4a5a86"/><circle cx="24" cy="69.2" r="1.4" fill="#f2c9ae"/><path d="M22.4,69 Q22.2,67 24.2,67.2 Q26,67.4 25.6,69.6 Q24.2,68 22.4,69z M22.6,68.6 q-1,1.2 -0.6,2.6 q0.8,-0.6 1,-1.6z" fill="#23324f"/><path d="M22,72.4 Q22.2,71 23.6,70.8 H25 Q26.4,71 26.6,72.4 L27.6,75.6 L30.4,76.4 L30.2,77.2 L26.8,76.8 L26.8,79.4 H22 Z" fill="#6fa9de"/><path d="M22,79.2 H26.8 L28,87 H26.6 L24.6,81 L23.6,87 H22.2 Z" fill="#27345f"/><rect x="30" y="78.6" width="20" height="1" rx="0.4" fill="#2b8a9a"/><path d="M33,79.6 L29.6,87 M37,79.6 L33.4,87 M45,79.6 L48,87 M41,79.6 L44.4,87" stroke="#7a8aa6" stroke-width="0.5" fill="none"/><circle cx="29.6" cy="87.2" r="0.7" fill="#24355f"/><circle cx="48" cy="87.2" r="0.7" fill="#24355f"/><circle cx="33.4" cy="87.2" r="0.7" fill="#24355f"/><circle cx="44.4" cy="87.2" r="0.7" fill="#24355f"/><circle cx="31.8" cy="76.8" r="1.2" fill="#f2c9ae"/><rect x="33.2" y="75.8" width="7.4" height="2.6" rx="1" fill="#e2573f"/><rect x="40.4" y="76.2" width="9.4" height="2.2" rx="0.9" fill="#2a3352"/><circle cx="37.6" cy="69.6" r="1.3" fill="#f2c9ae"/><path d="M36.2,69.2 Q36.2,67.6 37.8,67.8 Q39.2,67.8 39,69.4 Q37.8,68.4 36.2,69.2z" fill="#6b4a3a"/><path d="M35.6,72.6 Q35.8,71.2 37.2,71 H38.6 Q40.2,71.2 40.6,72.6 L42,76 H35.2 Z" fill="#2f9d9d"/></g><g><rect x="55" y="61" width="12.6" height="24.8" rx="1.7" fill="#1d2440"/><rect x="55.7" y="61.9" width="11.2" height="23" rx="1.1" fill="url(#a6pm)"/><text x="61.3" y="73.6" font-size="1.9" font-weight="700" fill="#dbe7ff" text-anchor="middle">ケアまる</text><rect x="59.2" y="81.2" width="4.2" height="0.5" fill="#9db7ee"/><text x="61.3" y="55.6" font-size="2.25" font-weight="900" fill="#1c2546" text-anchor="middle" stroke="#1c2546" stroke-width="0.08">アプリが</text><text x="61.3" y="58.5" font-size="2.25" font-weight="900" fill="#1c2546" text-anchor="middle" stroke="#1c2546" stroke-width="0.08">使える</text><path d="M53.2,53.6 L55.3,59.4 M55.2,53 L56.6,58.8 M69.4,53.6 L67.3,59.4 M67.4,53 L66,58.8" stroke="#26304f" stroke-width="0.25" fill="none"/><rect x="51.2" y="80.4" width="4.6" height="4.6" rx="0.5" fill="#fff" stroke="#b4c6ea" stroke-width="0.3"/><rect x="52" y="82.6" width="3" height="1.6" fill="#3d6fd0"/></g><rect x="0" y="88.2" width="74" height="15.2" fill="#073e86"/><rect x="5.3" y="90.7" width="19.599999999999998" height="3.4" fill="#fff"/><text x="15.1" y="93.3" font-size="2.0" font-weight="700" fill="#073e86" text-anchor="middle">一問一答問題</text><rect x="27" y="90.7" width="20" height="3.4" fill="#fff"/><text x="37.0" y="93.3" font-size="2.0" font-weight="700" fill="#073e86" text-anchor="middle">模擬試験問題収載</text><rect x="48.7" y="90.7" width="20.299999999999997" height="3.4" fill="#fff"/><text x="58.85" y="93.3" font-size="2.0" font-weight="700" fill="#073e86" text-anchor="middle">スマホ版アプリ対応</text><rect x="5" y="96.2" width="46.4" height="0.4" fill="#dbe6f7"/><rect x="5" y="101.5" width="46.4" height="0.4" fill="#dbe6f7"/><text x="5.8" y="100.6" font-size="3.45" font-weight="700" fill="#fff" text-anchor="start" letter-spacing="0.0">公式テキストに準じて制作!!</text><g transform="translate(53.4,100.2) scale(0.78)"><path d="M0,-3.6 L4.6,-3.6 L4.6,-1.2 Q4.6,0.6 2.3,1.2 Q0,0.6 0,-1.2 Z" fill="#fff"/><path d="M-1.4,-3.9 L6,-3.9 L5.4,-3.1 L-0.8,-3.1 Z" fill="#fff"/><text x="5.2" y="0.2" font-size="3.6" font-weight="700" fill="#fff" text-anchor="start" letter-spacing="-0.1">ASTICK</text></g></svg></div>
<div class="abs" style="left:232.4px;top:337.4px;z-index:1"><svg width="720" height="768" viewBox="0 0 90 96" style="transform:scale(0.125);transform-origin:0 0"><defs><clipPath id="p7c"><rect x="0" y="0" width="90" height="94.4"/></clipPath><linearGradient id="p7b" x1="0" y1="0.25" x2="1" y2="0.75"><stop offset="0" stop-color="#2b95e3"/><stop offset="0.5" stop-color="#2f72d2"/><stop offset="1" stop-color="#5654b4"/></linearGradient><linearGradient id="p7h" x1="0" y1="0" x2="1" y2="0"><stop offset="0" stop-color="#f8e8e0"/><stop offset="0.5" stop-color="#efd0c3"/><stop offset="1" stop-color="#e0b7a7"/></linearGradient><radialGradient id="p7s" cx="0.5" cy="0.5" r="0.5"><stop offset="0.6" stop-color="#d9dde2" stop-opacity="0.55"/><stop offset="1" stop-color="#d9dde2" stop-opacity="0"/></radialGradient><filter id="p7f" x="-20%" y="-20%" width="140%" height="140%"><feGaussianBlur stdDeviation="0.6"/></filter></defs><g clip-path="url(#p7c)"><ellipse cx="46" cy="56" rx="46" ry="56" fill="url(#p7s)"/><g filter="url(#p7f)"><path d="M72,48 Q78.6,46.6 79.6,51 Q79.8,55.6 73,60.4 Z" fill="#e3bfb0"/><path d="M72,62.6 Q80.4,59.6 81.6,65.4 Q81.6,71 73,77.4 Z" fill="#f1d6ca"/><path d="M72,78.6 Q78.6,76 79.6,81 Q79.4,86 73,91.6 Z" fill="#eccdc0"/><path d="M23.4,49.8 Q20.4,47.6 17.8,49.8 Q14.8,54 13.4,60 L9.4,74.6 L5.5,89 L3.8,96 H24 Z" fill="url(#p7h)"/></g><path d="M23.6,100 V16 Q23.6,9.5 30,9.5 H66.8 Q73.2,9.5 73.2,16 V100 Z" fill="#f6f7f5" stroke="#dfe1de" stroke-width="0.5"/><path d="M24.2,22.2 V16 Q24.2,10 30,10 H66.8 Q72.6,10 72.6,16 V22.2 Z" fill="#edefec"/><path d="M55,10 H66.8 Q72.6,10 72.6,16 V22.2 H62 Z" fill="#e0e3de"/><rect x="44.4" y="14.6" width="7.4" height="1.3" rx="0.65" fill="#6d716f"/><rect x="24.6" y="22.2" width="47.2" height="74" fill="#fff"/><text x="26.6" y="28.6" font-size="2.6" font-weight="700" fill="#4a5674" text-anchor="start" letter-spacing="-0.2">ケアまる</text><rect x="33.6" y="27" width="2" height="1.2" rx="0.6" fill="#4a50e2"/><circle cx="50.7" cy="27.6" r="2.6" fill="#2a66d6"/><circle cx="50.7" cy="27.6" r="1" fill="#cfe0ff"/><rect x="58.4" y="25.6" width="1.4" height="2.6" rx="0.5" fill="#2a5fc8"/><rect x="57.4" y="29" width="3.4" height="0.5" fill="#9aa7c4"/><rect x="66" y="25.6" width="1.4" height="2.6" rx="0.5" fill="#2a5fc8"/><rect x="65" y="29" width="3.4" height="0.5" fill="#9aa7c4"/><rect x="24.6" y="33.6" width="2.8" height="29.2" fill="#f4dc2e"/><rect x="28.6" y="33.6" width="39.4" height="29.2" rx="0.8" fill="url(#p7b)"/><rect x="69.2" y="33.6" width="2.6" height="29.2" fill="#ee6aa6"/><text x="46.4" y="46.0" font-size="4.0" font-weight="700" fill="#e6f2ff" text-anchor="middle" letter-spacing="0.1">ケアまる</text><rect x="55.4" y="43.4" width="3.4" height="1.8" rx="0.9" fill="#e6f2ff"/><rect x="34.8" y="50.9" width="27.4" height="3.3" rx="1.65" fill="#3a4fc0" opacity="0.8"/><text x="48.4" y="53.5" font-size="2.0" font-weight="700" fill="#fff" text-anchor="middle" letter-spacing="0.1">急性期ケアを動画でまなぶ</text><rect x="26.3" y="66.2" width="0.5" height="2.6" fill="#2a66d6"/><text x="27.6" y="68.5" font-size="2.4" font-weight="700" fill="#222b3a" text-anchor="start">新着のおすすめ</text><rect x="26.2" y="70.6" width="20.8" height="14.4" fill="#e4e9ec"/><path d="M26.2,78 L42,72 L47,74 V85 H30 Z" fill="#f6f7f5"/><circle cx="31.6" cy="77.4" r="1.3" fill="#e8803a"/><circle cx="34.6" cy="78.8" r="1.4" fill="#3a7fd0"/><circle cx="37.6" cy="80" r="1.7" fill="#2a66d6"/><circle cx="41" cy="81.6" r="1.3" fill="#4fb06a"/><circle cx="43.6" cy="83" r="1.1" fill="#e8c23a"/><rect x="49.4" y="70.6" width="20.8" height="14.4" fill="#14171e"/><circle cx="59.8" cy="77.8" r="2.2" fill="#2f7fe6"/><circle cx="59.8" cy="77.8" r="0.9" fill="#cfe4ff"/><path d="M52,74 H56 L57.6,77 M52,81.6 H56 L57.6,78.6 M67.6,74 H63.6 L62,77 M67.6,81.6 H63.6 L62,78.6" stroke="#5c6675" stroke-width="0.3" fill="none"/><rect x="26.2" y="85.2" width="6" height="0.5" fill="#2a66d6"/><rect x="49.4" y="85.2" width="14" height="0.5" fill="#2a66d6"/><rect x="26.2" y="86.8" width="12" height="0.5" fill="#b9bec6"/><rect x="49.4" y="86.8" width="13" height="0.5" fill="#b9bec6"/><text x="26.2" y="90.6" font-size="2.2" font-weight="700" fill="#222b3a" text-anchor="start">症例集</text><text x="49.4" y="90.6" font-size="2.2" font-weight="700" fill="#222b3a" text-anchor="start" letter-spacing="-0.1">急性期全身管理の基本</text><rect x="38.8" y="93.2" width="19" height="0.7" fill="#8fb6ee"/></g></svg></div>
<div class="icon" style="left:325.6px;top:336px"><svg width="528" height="528" viewBox="0 0 66 66" style="transform:scale(0.125);transform-origin:0 0"><defs><linearGradient id="g8" gradientUnits="userSpaceOnUse" x1="10" y1="14" x2="52" y2="52"><stop offset="0" stop-color="#60bcf0"/><stop offset="0.36" stop-color="#5690ea"/><stop offset="0.62" stop-color="#4e6ae4"/><stop offset="1" stop-color="#4a4fe0"/></linearGradient><linearGradient id="g8a" gradientUnits="userSpaceOnUse" x1="10" y1="14" x2="52" y2="52" gradientTransform="scale(1.3986,1) translate(-8.7,-28.5)"><stop offset="0" stop-color="#60bcf0"/><stop offset="0.36" stop-color="#5690ea"/><stop offset="0.62" stop-color="#4e6ae4"/><stop offset="1" stop-color="#4a4fe0"/></linearGradient><linearGradient id="g8b" gradientUnits="userSpaceOnUse" x1="10" y1="14" x2="52" y2="52" gradientTransform="scale(1.31579,1) translate(-8.7,-49.6)"><stop offset="0" stop-color="#60bcf0"/><stop offset="0.36" stop-color="#5690ea"/><stop offset="0.62" stop-color="#4e6ae4"/><stop offset="1" stop-color="#4a4fe0"/></linearGradient></defs><text transform="translate(8.7,28.5) scale(0.715,1)" font-size="19.6" font-weight="500" letter-spacing="-0.7" fill="url(#g8a)" stroke="url(#g8a)" stroke-width="0.45">ケア</text><text transform="translate(8.7,49.6) scale(0.76,1)" font-size="18.4" font-weight="500" letter-spacing="-0.6" fill="url(#g8b)" stroke="url(#g8b)" stroke-width="0.45">まる</text><path d="M40.9,17.4 L51.6,22.4 L40.9,27.4 Z" fill="url(#g8)" stroke="url(#g8)" stroke-width="1" stroke-linejoin="round"/><rect x="37.8" y="38.3" width="20.3" height="11" rx="5.5" fill="#4b4fe2"/><text x="48.1" y="47.2" font-size="9" font-weight="400" fill="#fff" stroke="#fff" stroke-width="0.7" stroke-linejoin="round" text-anchor="middle" letter-spacing="0.9">Pro</text><text x="48.1" y="47.2" font-size="9" font-weight="400" fill="#4b4fe2" text-anchor="middle" letter-spacing="0.9" opacity="0.6">Pro</text></svg></div><div class="app" style="left:323.40000000000003px;top:410px"><span>アプリ付属</span></div>
<div class="abs" style="left:406px;top:332px;z-index:1"><svg width="592" height="832" viewBox="0 0 74 104" style="transform:scale(0.125);transform-origin:0 0"><rect width="74" height="104" fill="#afb6d5"/><path d="M4.9,96 V8.7 Q4.9,4.5 9.1,4.5 H65.1 Q69.3,4.5 69.3,8.7 V96 Z" fill="#fff"/><text x="36.8" y="24.6" font-size="11.2" font-weight="700" fill="#0d2b78" text-anchor="middle" letter-spacing="-0.1" stroke="#0d2b78" stroke-width="0.12">急性期ケア</text><circle cx="23.4" cy="33.0" r="5.6" fill="#05246f"/><text x="23.4" y="35.7" font-size="7.2" font-weight="700" fill="#fff" text-anchor="middle">専</text><circle cx="36.65" cy="33.0" r="5.6" fill="#05246f"/><text x="36.65" y="35.7" font-size="7.2" font-weight="700" fill="#fff" text-anchor="middle">門</text><circle cx="49.9" cy="33.0" r="5.6" fill="#05246f"/><text x="49.9" y="35.7" font-size="7.2" font-weight="700" fill="#fff" text-anchor="middle">士</text><rect x="0" y="42" width="74" height="8.9" fill="#05246f"/><text x="14.8" y="45.9" font-size="2.6" font-weight="900" fill="#fff" text-anchor="start">受験</text><text x="14.8" y="48.9" font-size="2.6" font-weight="900" fill="#fff" text-anchor="start">必修</text><text transform="translate(21.8,49.0) scale(1.13,1)" font-size="6.3" font-weight="900" fill="#fff" letter-spacing="0.25">症例問題集</text><text x="36.1" y="57.8" text-anchor="middle" font-size="6.4" font-weight="900" fill="#aebde0" letter-spacing="0.1">2025<tspan font-size="4.3" dx="0.2">年度版</tspan></text><text x="35.8" y="57.5" text-anchor="middle" font-size="6.4" font-weight="900" fill="#eef2fb" stroke="#8ea8d8" stroke-width="0.42" letter-spacing="0.1">2025<tspan font-size="4.3" dx="0.2">年度版</tspan></text><path d="M9.9,67 V64.6 Q10.2,63.2 12,64.8 M15,67 V64.4 Q15.6,63 16.6,65" stroke="#d9534f" stroke-width="0.5" fill="none"/><path d="M9,67 H16.8 V74 Q16.8,76.4 12.9,76.4 Q9,76.4 9,74 Z" fill="#fbeeee" stroke="#d9534f" stroke-width="0.5"/><path d="M9.4,70.6 H16.4 V74 Q16.4,76 12.9,76 Q9.4,76 9.4,74 Z" fill="#d9413c"/><rect x="10.6" y="71.4" width="4.6" height="3" fill="#f4e9e6"/><path d="M19.2,70.4 Q19.2,65.8 23.6,65.6 Q28.2,65.8 28.2,70.4 Q28.2,75.8 23.8,76.4 Q19.2,75.8 19.2,70.4z" fill="#f2faf9" stroke="#9fd0c6" stroke-width="0.45"/><path d="M21,70.6 Q23.6,67.6 26.4,70.6 Q26,74.2 23.7,74.6 Q21.4,74.2 21,70.6z" fill="#fff" stroke="#bfe2dc" stroke-width="0.35"/><path d="M23.7,74.6 V76.8" stroke="#e58b8b" stroke-width="0.4"/><g transform="rotate(12 36.6 70.6)"><rect x="30.4" y="67" width="13" height="7.4" rx="2" fill="#f3efe2" stroke="#b9b39f" stroke-width="0.35"/><rect x="32" y="68.2" width="8.4" height="3.4" rx="0.7" fill="#1c2a44"/><rect x="33" y="68.9" width="3" height="1.8" fill="#46c6ea"/><rect x="37" y="68.9" width="2.4" height="1.8" fill="#2f7fd8"/><rect x="40.8" y="68.6" width="1.8" height="2.6" rx="0.6" fill="#3d9be0"/></g><path d="M46,67.6 Q46,62.8 49.9,62.8 Q54,62.8 54,67.6" fill="none" stroke="#26262e" stroke-width="0.8"/><rect x="44.8" y="66.6" width="10.4" height="10.4" rx="2.4" fill="#e8502a"/><rect x="46.6" y="70.6" width="6.8" height="3.4" rx="0.6" fill="#f7e3da"/><circle cx="50" cy="68.6" r="0.8" fill="#2b3f8a"/><path d="M56.8,66 Q56.8,62 60.8,61.8 H68.6 Q72.4,62 72.4,66 V75.4 Q72.4,78.6 68.6,78.8 H60.8 Q56.8,78.6 56.8,75.4 Z" fill="#f0672a"/><path d="M56.8,83.6 Q56.8,79.6 60.8,79.4 H68.6 Q72.4,79.6 72.4,83.6 V97 Q72.4,101 68.6,101.2 H60.8 Q56.8,101 56.8,97 Z" fill="#ee6226"/><path d="M57.4,97.4 Q60,102.4 68,101.6 Q72,101 72.4,98" fill="none" stroke="#1e1e26" stroke-width="0.5"/><rect x="58.8" y="64.6" width="8" height="8.6" rx="0.8" fill="#fbf3ee" transform="rotate(-14 62.8 69)"/><rect x="64.4" y="63.6" width="7" height="7.6" rx="0.8" fill="#fdfbf8" stroke="#d9d2cc" stroke-width="0.25" transform="rotate(38 67.9 67.4)"/><rect x="59.4" y="83" width="6.6" height="5.6" rx="0.6" fill="#f9d9c6"/><rect x="60.2" y="83.8" width="5" height="2" fill="#fff3ea"/><rect x="67.4" y="82.6" width="2" height="2.4" fill="#2a2a30"/><circle cx="64.4" cy="91" r="1.6" fill="#ffd7a8" stroke="#fff" stroke-width="0.3"/><rect x="59.8" y="93.4" width="2.2" height="2" fill="#2a2a30"/><circle cx="69" cy="90" r="0.8" fill="#ffe9a8"/><text x="7.8" y="82.5" font-size="3.45" font-weight="900" fill="#0d2b78" text-anchor="start" letter-spacing="-0.22">公式テキストに準じて制作!</text><text x="7.9" y="86.5" font-size="1.9" font-weight="500" fill="#0d2b78" text-anchor="start" letter-spacing="0.08">本番同様の形式で力試しができる!</text><text x="7.9" y="89.45" font-size="1.9" font-weight="500" fill="#0d2b78" text-anchor="start" letter-spacing="0.08">代表的な症例への対応を確認できる!</text><text x="7.9" y="92.4" font-size="1.9" font-weight="500" fill="#0d2b78" text-anchor="start" letter-spacing="0.08">最新の出題基準に合わせて改訂済み!</text><rect x="0" y="94.9" width="74" height="9.1" fill="#05246f"/><path d="M57.2,94.9 V97 Q57.2,101 61,101.2 H68.6 Q72.4,101 72.4,97 V94.9 Z" fill="#ee6226"/><path d="M57.4,97.4 Q60,102.4 68,101.6 Q72,101 72.4,98" fill="none" stroke="#1e1e26" stroke-width="0.5"/><text x="4.4" y="100.5" font-size="2.3" font-weight="700" fill="#fff" text-anchor="start" letter-spacing="0.1">定価 税込</text><rect x="16.7" y="97.6" width="17.000000000000004" height="4.1" fill="#eceef6"/><text x="25.200000000000003" y="100.6" font-size="2.3" font-weight="700" fill="#05246f" text-anchor="middle">2,750円</text><rect x="35" y="97.6" width="17" height="4.1" fill="#eceef6"/><text x="43.5" y="100.6" font-size="2.3" font-weight="700" fill="#05246f" text-anchor="middle">送料無料</text><rect x="53.2" y="97.6" width="16.89999999999999" height="4.1" fill="#eceef6"/><text x="61.65" y="100.6" font-size="2.3" font-weight="700" fill="#05246f" text-anchor="middle">全100問</text></svg></div>
<div class="abs" style="left:490px;top:332px;z-index:1"><svg width="592" height="832" viewBox="0 0 74 104" style="transform:scale(0.125);transform-origin:0 0"><defs><filter id="b9" x="0" y="0" width="100%" height="100%"><feTurbulence type="fractalNoise" baseFrequency="0.5" numOctaves="2" seed="4" result="t"/><feColorMatrix type="matrix" values="0 0 0 0 0.97  0 0 0 0 0.97  0 0 0 0 0.97  1.2 0 0 0 -0.25"/><feComposite operator="in" in2="SourceGraphic"/></filter></defs><rect width="74" height="104" fill="#e0e0e0"/><rect width="74" height="104" fill="#fff" filter="url(#b9)" opacity="0.8"/><path d="M16.2,10 H60.6 L59,15.9 H14.6 Z" fill="#111"/><text x="37.6" y="14.6" font-size="4.4" font-weight="900" fill="#fff" text-anchor="middle" letter-spacing="0.35" stroke="#fff" stroke-width="0.12">急性期ケア専門士</text><text x="37.1" y="24.9" font-size="5.95" font-weight="900" fill="#111" text-anchor="middle" letter-spacing="0.0" stroke="#111" stroke-width="0.22">模擬試験</text><text x="37.2" y="33.3" text-anchor="middle" fill="#111" stroke="#111" stroke-width="0.15" font-weight="900" font-size="3.3"><tspan>第</tspan><tspan font-size="5.6">1</tspan><tspan>回</tspan><tspan font-size="5.3" dx="1.3">問題</tspan></text><text x="36" y="66.6" font-size="1.9" font-weight="700" fill="#222" text-anchor="middle">受験番号　氏名　受験上の注意点</text><rect x="10" y="67.6" width="51.8" height="19" rx="1" fill="none" stroke="#333" stroke-width="0.3"/><text x="11.4" y="70.2" font-size="1.45" font-weight="500" fill="#333" text-anchor="start">1.試験時間は90分です。開始の合図があるまで、この冊子を開かないで</text><text x="11.4" y="72.55" font-size="1.45" font-weight="500" fill="#333" text-anchor="start">ください。解答は解答用紙に記入し、マークシートの記入方法に従って</text><text x="11.4" y="74.9" font-size="1.45" font-weight="500" fill="#333" text-anchor="start">ください。</text><text x="11.4" y="77.25" font-size="1.45" font-weight="500" fill="#333" text-anchor="start">2.問題は全部で100問あり、すべて四肢択一の形式で出題されます。</text><text x="11.4" y="79.60000000000001" font-size="1.45" font-weight="500" fill="#333" text-anchor="start">3.試験中の途中退室は認められません。</text><text x="11.4" y="81.95" font-size="1.45" font-weight="500" fill="#333" text-anchor="start">4.試験終了の合図があったら、直ちに筆記用具を置き係員の指示に従って</text><text x="11.4" y="84.30000000000001" font-size="1.45" font-weight="500" fill="#333" text-anchor="start">ください。</text><g transform="translate(24,97.3)"><path d="M0.5,-3.9 L4.3,-3.9 L4.3,-1 Q4.3,0.6 2.4,1.5 Q0.5,0.6 0.5,-1 Z" fill="#222"/><path d="M-0.6,-4.3 L5.4,-4.3 L4.9,-3.4 L-0.1,-3.4 Z" fill="#222"/><path d="M1.5,-2.8 H3.3 V-0.8 Q3.3,-0.2 2.4,0.4 Q1.5,-0.2 1.5,-0.8 Z" fill="#dcdcdc"/><text x="4.6" y="0.1" font-size="5.5" font-weight="700" fill="#222" text-anchor="start" letter-spacing="-0.05" stroke="#222" stroke-width="0.1">ASTICK</text><text x="6.4" y="2.1" font-size="1.3" font-weight="700" fill="#444" text-anchor="start" letter-spacing="0.05">MEDICAL EDUCATION</text></g></svg></div>
<div class="abs" style="left:130px;top:502px;z-index:1"><svg width="592" height="832" viewBox="0 0 74 104" style="transform:scale(0.125);transform-origin:0 0"><defs><linearGradient id="a10pm" x1="0" y1="0" x2="1" y2="1"><stop offset="0" stop-color="#2f7fe0"/><stop offset="1" stop-color="#3b49b4"/></linearGradient></defs><rect width="74" height="104" fill="#afb6d5"/><path d="M4.7,88.4 V7.4 Q4.7,4.2 7.9,4.2 H66.2 Q69.4,4.2 69.4,7.4 V88.4 Z" fill="#fff"/><path d="M6,0 H21.2 V8.6 L6,12.8 Z" fill="#ffe61a"/><text x="12.4" y="3.7" font-size="2.5" font-weight="700" fill="#0b4089" text-anchor="middle" letter-spacing="0.0" stroke="#0b4089" stroke-width="0.14">詳しい</text><text x="13.8" y="7.4" font-size="3.1" font-weight="700" fill="#0b4089" text-anchor="middle" letter-spacing="0.05" stroke="#0b4089" stroke-width="0.14">解説付き</text><rect x="26.4" y="9.1" width="20.6" height="0.6" fill="#bfd0ee"/><rect x="26.4" y="14.6" width="20.6" height="0.6" fill="#bfd0ee"/><text x="27.2" y="13.45" text-anchor="start" fill="#0b4089" stroke="#0b4089" stroke-width="0.22" font-weight="900" font-size="4.2" letter-spacing="-0.02">2024<tspan font-size="3.0" dx="0.35" letter-spacing="0.05">年度版</tspan></text><text x="37.5" y="27.0" font-size="9.8" font-weight="700" fill="#0b4089" text-anchor="middle" letter-spacing="0.85" stroke="#0b4089" stroke-width="0.28">急性期ケア</text><rect x="20.05" y="30" width="9.1" height="9" rx="1.2" fill="#073e86"/><text x="24.6" y="37.0" font-size="6.8" font-weight="900" fill="#fff" text-anchor="middle">専</text><rect x="32.2" y="30" width="9.1" height="9" rx="1.2" fill="#073e86"/><text x="36.75" y="37.0" font-size="6.8" font-weight="900" fill="#fff" text-anchor="middle">門</text><rect x="44.35" y="30" width="9.1" height="9" rx="1.2" fill="#073e86"/><text x="48.9" y="37.0" font-size="6.8" font-weight="900" fill="#fff" text-anchor="middle">士</text><rect x="0" y="42.8" width="74" height="9.2" fill="#073e86"/><text x="7.8" y="46.6" font-size="2.7" font-weight="900" fill="#fff" text-anchor="start">受験</text><text x="7.8" y="49.8" font-size="2.7" font-weight="900" fill="#fff" text-anchor="start">必修</text><text x="14.8" y="50.1" font-size="6.1" font-weight="900" fill="#fff" text-anchor="start" letter-spacing="0.05">再現過去問集</text><circle cx="60.6" cy="46.6" r="6.45" fill="#ffe61a"/><circle cx="60.6" cy="46.6" r="5.4" fill="none" stroke="#26304f" stroke-width="0.2" stroke-dasharray="0.5 0.4"/><text x="60.6" y="47.8" font-size="3.2" font-weight="900" fill="#1c2d5c" text-anchor="middle">応用編</text><g><rect x="8" y="56" width="9" height="24" fill="#e6f1ee"/><rect x="18.5" y="61" width="7" height="19" fill="#edf5f3"/><path d="M33,80 V64 L35.5,60 L38,64 V80 Z" fill="#e6f1ee"/><rect x="45" y="62" width="6" height="18" fill="#edf5f3"/><path d="M21,60.5 H23.5 L24.5,57 L25.8,63.5 L27,58.5 L27.8,61 H30 C30,58.8 32.2,58.6 32.4,60 C32.8,58.6 34.8,58.8 34.6,60.4 C34.4,61.8 32.6,62.6 32.2,63 C31.6,62.4 30.4,61.6 30,60.8" fill="none" stroke="#ef8a6b" stroke-width="0.45" stroke-linejoin="round"/><rect x="39.8" y="57.2" width="7.4" height="3.2" rx="0.4" fill="#b9dcdc" transform="rotate(12 43.5 58.8)"/><path d="M8,68 Q14,65.6 20,66" fill="none" stroke="#c6cfe6" stroke-width="0.5"/><path d="M6.6,85 V80 Q6.6,78.6 8,77.8 L11.4,75 Q12.2,74.2 13.6,74.2 H30 Q31,74.2 31,75.4 V85 Z" fill="#fff" stroke="#b9c3d6" stroke-width="0.35"/><path d="M11.4,78.6 L14,75.4 H18.6 V78.6 Z" fill="#bfe3f2"/><rect x="19.6" y="75.4" width="5" height="3.6" fill="#bfe3f2"/><rect x="6.6" y="80.2" width="24.4" height="1.1" fill="#ea6a5a"/><rect x="6" y="84.4" width="26" height="1.2" rx="0.4" fill="#24355f"/><circle cx="11.4" cy="85.6" r="2.3" fill="#1e2c56"/><circle cx="11.4" cy="85.6" r="0.9" fill="#4a5a86"/><circle cx="28.6" cy="85.6" r="2.3" fill="#1e2c56"/><circle cx="28.6" cy="85.6" r="0.9" fill="#4a5a86"/><circle cx="24" cy="69.2" r="1.4" fill="#f2c9ae"/><path d="M22.4,69 Q22.2,67 24.2,67.2 Q26,67.4 25.6,69.6 Q24.2,68 22.4,69z M22.6,68.6 q-1,1.2 -0.6,2.6 q0.8,-0.6 1,-1.6z" fill="#23324f"/><path d="M22,72.4 Q22.2,71 23.6,70.8 H25 Q26.4,71 26.6,72.4 L27.6,75.6 L30.4,76.4 L30.2,77.2 L26.8,76.8 L26.8,79.4 H22 Z" fill="#6fa9de"/><path d="M22,79.2 H26.8 L28,87 H26.6 L24.6,81 L23.6,87 H22.2 Z" fill="#27345f"/><rect x="30" y="78.6" width="20" height="1" rx="0.4" fill="#2b8a9a"/><path d="M33,79.6 L29.6,87 M37,79.6 L33.4,87 M45,79.6 L48,87 M41,79.6 L44.4,87" stroke="#7a8aa6" stroke-width="0.5" fill="none"/><circle cx="29.6" cy="87.2" r="0.7" fill="#24355f"/><circle cx="48" cy="87.2" r="0.7" fill="#24355f"/><circle cx="33.4" cy="87.2" r="0.7" fill="#24355f"/><circle cx="44.4" cy="87.2" r="0.7" fill="#24355f"/><circle cx="31.8" cy="76.8" r="1.2" fill="#f2c9ae"/><rect x="33.2" y="75.8" width="7.4" height="2.6" rx="1" fill="#e2573f"/><rect x="40.4" y="76.2" width="9.4" height="2.2" rx="0.9" fill="#2a3352"/><circle cx="37.6" cy="69.6" r="1.3" fill="#f2c9ae"/><path d="M36.2,69.2 Q36.2,67.6 37.8,67.8 Q39.2,67.8 39,69.4 Q37.8,68.4 36.2,69.2z" fill="#6b4a3a"/><path d="M35.6,72.6 Q35.8,71.2 37.2,71 H38.6 Q40.2,71.2 40.6,72.6 L42,76 H35.2 Z" fill="#2f9d9d"/></g><g><rect x="55" y="61" width="12.6" height="24.8" rx="1.7" fill="#1d2440"/><rect x="55.7" y="61.9" width="11.2" height="23" rx="1.1" fill="url(#a10pm)"/><text x="61.3" y="73.6" font-size="1.9" font-weight="700" fill="#dbe7ff" text-anchor="middle">ケアまる</text><rect x="59.2" y="81.2" width="4.2" height="0.5" fill="#9db7ee"/><text x="61.3" y="55.6" font-size="2.25" font-weight="900" fill="#1c2546" text-anchor="middle" stroke="#1c2546" stroke-width="0.08">アプリが</text><text x="61.3" y="58.5" font-size="2.25" font-weight="900" fill="#1c2546" text-anchor="middle" stroke="#1c2546" stroke-width="0.08">使える</text><path d="M53.2,53.6 L55.3,59.4 M55.2,53 L56.6,58.8 M69.4,53.6 L67.3,59.4 M67.4,53 L66,58.8" stroke="#26304f" stroke-width="0.25" fill="none"/><rect x="51.2" y="80.4" width="4.6" height="4.6" rx="0.5" fill="#fff" stroke="#b4c6ea" stroke-width="0.3"/><rect x="52" y="82.6" width="3" height="1.6" fill="#3d6fd0"/></g><rect x="0" y="88.2" width="74" height="15.2" fill="#073e86"/><rect x="5.3" y="90.7" width="19.599999999999998" height="3.4" fill="#fff"/><text x="15.1" y="93.3" font-size="2.0" font-weight="700" fill="#073e86" text-anchor="middle">一問一答問題</text><rect x="27" y="90.7" width="20" height="3.4" fill="#fff"/><text x="37.0" y="93.3" font-size="2.0" font-weight="700" fill="#073e86" text-anchor="middle">模擬試験問題収載</text><rect x="48.7" y="90.7" width="20.299999999999997" height="3.4" fill="#fff"/><text x="58.85" y="93.3" font-size="2.0" font-weight="700" fill="#073e86" text-anchor="middle">スマホ版アプリ対応</text><rect x="5" y="96.2" width="46.4" height="0.4" fill="#dbe6f7"/><rect x="5" y="101.5" width="46.4" height="0.4" fill="#dbe6f7"/><text x="5.8" y="100.6" font-size="3.45" font-weight="700" fill="#fff" text-anchor="start" letter-spacing="0.0">公式テキストに準じて制作!!</text><g transform="translate(53.4,100.2) scale(0.78)"><path d="M0,-3.6 L4.6,-3.6 L4.6,-1.2 Q4.6,0.6 2.3,1.2 Q0,0.6 0,-1.2 Z" fill="#fff"/><path d="M-1.4,-3.9 L6,-3.9 L5.4,-3.1 L-0.8,-3.1 Z" fill="#fff"/><text x="5.2" y="0.2" font-size="3.6" font-weight="700" fill="#fff" text-anchor="start" letter-spacing="-0.1">ASTICK</text></g></svg></div>
<div class="abs" style="left:72px;top:506px;z-index:2"><svg width="592" height="832" viewBox="0 0 74 104" style="transform:scale(0.125);transform-origin:0 0"><defs><linearGradient id="a11pm" x1="0" y1="0" x2="1" y2="1"><stop offset="0" stop-color="#2f7fe0"/><stop offset="1" stop-color="#3b49b4"/></linearGradient></defs><rect width="74" height="104" fill="#afb6d5"/><path d="M4.7,88.4 V7.4 Q4.7,4.2 7.9,4.2 H66.2 Q69.4,4.2 69.4,7.4 V88.4 Z" fill="#fff"/><path d="M6,0 H21.2 V8.6 L6,12.8 Z" fill="#ffe61a"/><text x="12.4" y="3.7" font-size="2.5" font-weight="700" fill="#185ba4" text-anchor="middle" letter-spacing="0.0" stroke="#185ba4" stroke-width="0.14">詳しい</text><text x="13.8" y="7.4" font-size="3.1" font-weight="700" fill="#185ba4" text-anchor="middle" letter-spacing="0.05" stroke="#185ba4" stroke-width="0.14">解説付き</text><rect x="26.4" y="9.1" width="20.6" height="0.6" fill="#bfd0ee"/><rect x="26.4" y="14.6" width="20.6" height="0.6" fill="#bfd0ee"/><text x="27.2" y="13.45" text-anchor="start" fill="#185ba4" stroke="#185ba4" stroke-width="0.22" font-weight="900" font-size="4.2" letter-spacing="-0.02">2026<tspan font-size="3.0" dx="0.35" letter-spacing="0.05">年度版</tspan></text><text x="37.5" y="27.0" font-size="9.8" font-weight="700" fill="#185ba4" text-anchor="middle" letter-spacing="0.85" stroke="#185ba4" stroke-width="0.28">急性期ケア</text><rect x="20.05" y="30" width="9.1" height="9" rx="1.2" fill="#175aa2"/><text x="24.6" y="37.0" font-size="6.8" font-weight="900" fill="#fff" text-anchor="middle">専</text><rect x="32.2" y="30" width="9.1" height="9" rx="1.2" fill="#175aa2"/><text x="36.75" y="37.0" font-size="6.8" font-weight="900" fill="#fff" text-anchor="middle">門</text><rect x="44.35" y="30" width="9.1" height="9" rx="1.2" fill="#175aa2"/><text x="48.9" y="37.0" font-size="6.8" font-weight="900" fill="#fff" text-anchor="middle">士</text><rect x="0" y="42.8" width="74" height="9.2" fill="#175aa2"/><text x="14.4" y="46.6" font-size="2.7" font-weight="900" fill="#fff" text-anchor="start">受験</text><text x="14.4" y="49.8" font-size="2.7" font-weight="900" fill="#fff" text-anchor="start">必修</text><text x="21.4" y="50.1" font-size="6.1" font-weight="900" fill="#fff" text-anchor="start" letter-spacing="0.05">再現過去問集</text><g><rect x="8" y="55" width="10" height="22" fill="#e6f1ee"/><rect x="19.5" y="60" width="7" height="17" fill="#edf5f3"/><path d="M47,80 V62 L49.5,58 L52,62 V80 Z" fill="#e6f1ee"/><rect x="10" y="58" width="6" height="0.8" fill="#fff"/><rect x="10" y="61" width="6" height="0.8" fill="#fff"/><rect x="10" y="64" width="6" height="0.8" fill="#fff"/><path d="M21,60.5 H23.5 L24.5,57 L25.8,63.5 L27,58.5 L27.8,61 H30 C30,58.8 32.2,58.6 32.4,60 C32.8,58.6 34.8,58.8 34.6,60.4 C34.4,61.8 32.6,62.6 32.2,63 C31.6,62.4 30.4,61.6 30,60.8" fill="none" stroke="#ef8a6b" stroke-width="0.45" stroke-linejoin="round"/><rect x="39.8" y="57.2" width="7.4" height="3.2" rx="0.4" fill="#b9dcdc" transform="rotate(12 43.5 58.8)"/><path d="M10,66.5 Q16,64.2 22,64.6" fill="none" stroke="#c6cfe6" stroke-width="0.5"/><path d="M6.5,72 q2.5,0 4,3 q-3,0.5 -4,-3z M11,71.5 q2.6,1 2.6,4.2 q-2.8,-0.8 -2.6,-4.2z M7,76 q2.6,-0.6 4.2,1.6 q-2.8,1 -4.2,-1.6z M10.5,80 l0.8,-6" fill="#8fd08f" stroke="#8fd08f" stroke-width="0.2"/><path d="M49,79 q1.6,-2.6 3.6,-2 q-0.8,2.4 -3.6,2z M48.5,82 q2,-1.4 3.8,-0.2 q-1.6,1.6 -3.8,0.2z" fill="#8fd08f"/><path d="M9.6,83.8 V78.5 Q9.6,77.2 11,76.4 L14,73.4 Q14.8,72.2 16.4,72.2 H35 Q36.4,72.2 36.4,73.6 V83.8 Z" fill="#fff" stroke="#b9c3d6" stroke-width="0.35"/><path d="M14.6,77 L17,73.6 H21 V77 Z" fill="#bfe3f2"/><rect x="22" y="73.6" width="6.6" height="4.2" fill="#bfe3f2"/><rect x="9.6" y="78.6" width="26.8" height="1.1" fill="#ea6a5a"/><rect x="21.6" y="80" width="7.4" height="3.8" fill="#e3f0f6"/><rect x="22.6" y="70.6" width="3.4" height="1.6" rx="0.4" fill="#ea6a5a"/><circle cx="33.4" cy="75.6" r="2" fill="#fff" stroke="#e2695b" stroke-width="0.7"/><rect x="8.6" y="83" width="29" height="1.2" rx="0.4" fill="#24355f"/><circle cx="14" cy="84.2" r="2.3" fill="#1e2c56"/><circle cx="14" cy="84.2" r="0.9" fill="#4a5a86"/><circle cx="33" cy="84.2" r="2.3" fill="#1e2c56"/><circle cx="33" cy="84.2" r="0.9" fill="#4a5a86"/><circle cx="38.4" cy="66.2" r="1.35" fill="#f2c9ae"/><path d="M37,65.8 Q37,64.2 38.6,64.4 Q40,64.4 39.8,66 Q38.6,65 37,65.8z" fill="#23324f"/><path d="M35.6,69.4 Q35.8,68 37.2,67.8 H39.6 Q41,68 41.2,69.4 L41.4,75.6 H35.4 Z" fill="#178585"/><path d="M35.8,75.4 H41.2 L41,86 H39.2 L38.6,77.6 L38,86 H36.2 Z" fill="#178585"/><rect x="35.6" y="86" width="2.6" height="0.9" rx="0.4" fill="#e9eef5"/><rect x="39" y="86" width="2.6" height="0.9" rx="0.4" fill="#e9eef5"/><circle cx="44.8" cy="66.8" r="1.3" fill="#f2c9ae"/><path d="M43.4,66.4 Q43.4,64.8 45,64.9 Q46.6,65 46.2,67 Q45,65.6 43.4,66.4z M45.8,64.6 a0.8,0.8 0 1,0 0.1,0z" fill="#23324f"/><path d="M42.4,70 Q42.6,68.6 44,68.4 H45.8 Q47.2,68.6 47.4,70 L47.8,77.4 H42.2 Z" fill="#2f9d9d"/><path d="M42.8,77.2 H47.2 L46.8,86 H45.4 L45,79 L44.6,86 H43.2 Z" fill="#27345f"/><rect x="42.6" y="86" width="2.2" height="0.9" rx="0.4" fill="#e9eef5"/><rect x="45.2" y="86" width="2.2" height="0.9" rx="0.4" fill="#e9eef5"/><circle cx="47.6" cy="76.6" r="2.1" fill="#cfe8f6" stroke="#8fc4e6" stroke-width="0.5"/></g><g><rect x="55" y="61" width="12.6" height="24.8" rx="1.7" fill="#1d2440"/><rect x="55.7" y="61.9" width="11.2" height="23" rx="1.1" fill="url(#a11pm)"/><text x="61.3" y="73.6" font-size="1.9" font-weight="700" fill="#dbe7ff" text-anchor="middle">ケアまる</text><rect x="59.2" y="81.2" width="4.2" height="0.5" fill="#9db7ee"/><text x="61.3" y="55.6" font-size="2.25" font-weight="900" fill="#1c2546" text-anchor="middle" stroke="#1c2546" stroke-width="0.08">アプリが</text><text x="61.3" y="58.5" font-size="2.25" font-weight="900" fill="#1c2546" text-anchor="middle" stroke="#1c2546" stroke-width="0.08">使える</text><path d="M53.2,53.6 L55.3,59.4 M55.2,53 L56.6,58.8 M69.4,53.6 L67.3,59.4 M67.4,53 L66,58.8" stroke="#26304f" stroke-width="0.25" fill="none"/><rect x="51.2" y="80.4" width="4.6" height="4.6" rx="0.5" fill="#fff" stroke="#b4c6ea" stroke-width="0.3"/><rect x="52" y="82.6" width="3" height="1.6" fill="#3d6fd0"/></g><rect x="0" y="88.2" width="74" height="15.2" fill="#175aa2"/><rect x="5.3" y="90.7" width="19.599999999999998" height="3.4" fill="#fff"/><text x="15.1" y="93.3" font-size="2.0" font-weight="700" fill="#175aa2" text-anchor="middle">一問一答問題</text><rect x="27" y="90.7" width="20" height="3.4" fill="#fff"/><text x="37.0" y="93.3" font-size="2.0" font-weight="700" fill="#175aa2" text-anchor="middle">模擬試験問題収載</text><rect x="48.7" y="90.7" width="20.299999999999997" height="3.4" fill="#fff"/><text x="58.85" y="93.3" font-size="2.0" font-weight="700" fill="#175aa2" text-anchor="middle">スマホ版アプリ対応</text><rect x="5" y="96.2" width="46.4" height="0.4" fill="#dbe6f7"/><rect x="5" y="101.5" width="46.4" height="0.4" fill="#dbe6f7"/><text x="5.8" y="100.6" font-size="3.45" font-weight="700" fill="#fff" text-anchor="start" letter-spacing="0.0">公式テキストに準じて制作!!</text><g transform="translate(53.4,100.2) scale(0.78)"><path d="M0,-3.6 L4.6,-3.6 L4.6,-1.2 Q4.6,0.6 2.3,1.2 Q0,0.6 0,-1.2 Z" fill="#fff"/><path d="M-1.4,-3.9 L6,-3.9 L5.4,-3.1 L-0.8,-3.1 Z" fill="#fff"/><text x="5.2" y="0.2" font-size="3.6" font-weight="700" fill="#fff" text-anchor="start" letter-spacing="-0.1">ASTICK</text></g></svg></div>
<div class="abs" style="left:208.2px;top:507.1px;z-index:1"><svg width="720" height="768" viewBox="0 0 90 96" style="transform:scale(0.125);transform-origin:0 0"><defs><clipPath id="p12c"><rect x="0" y="0" width="90" height="94.4"/></clipPath><linearGradient id="p12b" x1="0" y1="0.25" x2="1" y2="0.75"><stop offset="0" stop-color="#2b95e3"/><stop offset="0.5" stop-color="#2f72d2"/><stop offset="1" stop-color="#5654b4"/></linearGradient><linearGradient id="p12h" x1="0" y1="0" x2="1" y2="0"><stop offset="0" stop-color="#f8e8e0"/><stop offset="0.5" stop-color="#efd0c3"/><stop offset="1" stop-color="#e0b7a7"/></linearGradient><radialGradient id="p12s" cx="0.5" cy="0.5" r="0.5"><stop offset="0.6" stop-color="#d9dde2" stop-opacity="0.55"/><stop offset="1" stop-color="#d9dde2" stop-opacity="0"/></radialGradient><filter id="p12f" x="-20%" y="-20%" width="140%" height="140%"><feGaussianBlur stdDeviation="0.6"/></filter></defs><g clip-path="url(#p12c)"><ellipse cx="46" cy="56" rx="46" ry="56" fill="url(#p12s)"/><g filter="url(#p12f)"><path d="M72,48 Q78.6,46.6 79.6,51 Q79.8,55.6 73,60.4 Z" fill="#e3bfb0"/><path d="M72,62.6 Q80.4,59.6 81.6,65.4 Q81.6,71 73,77.4 Z" fill="#f1d6ca"/><path d="M72,78.6 Q78.6,76 79.6,81 Q79.4,86 73,91.6 Z" fill="#eccdc0"/><path d="M23.4,49.8 Q20.4,47.6 17.8,49.8 Q14.8,54 13.4,60 L9.4,74.6 L5.5,89 L3.8,96 H24 Z" fill="url(#p12h)"/></g><path d="M23.6,100 V16 Q23.6,9.5 30,9.5 H66.8 Q73.2,9.5 73.2,16 V100 Z" fill="#f6f7f5" stroke="#dfe1de" stroke-width="0.5"/><path d="M24.2,22.2 V16 Q24.2,10 30,10 H66.8 Q72.6,10 72.6,16 V22.2 Z" fill="#edefec"/><path d="M55,10 H66.8 Q72.6,10 72.6,16 V22.2 H62 Z" fill="#e0e3de"/><rect x="44.4" y="14.6" width="7.4" height="1.3" rx="0.65" fill="#6d716f"/><rect x="24.6" y="22.2" width="47.2" height="74" fill="#fff"/><text x="26.6" y="28.6" font-size="2.6" font-weight="700" fill="#4a5674" text-anchor="start" letter-spacing="-0.2">ケアまる</text><rect x="33.6" y="27" width="2" height="1.2" rx="0.6" fill="#4a50e2"/><circle cx="50.7" cy="27.6" r="2.6" fill="#2a66d6"/><circle cx="50.7" cy="27.6" r="1" fill="#cfe0ff"/><rect x="58.4" y="25.6" width="1.4" height="2.6" rx="0.5" fill="#2a5fc8"/><rect x="57.4" y="29" width="3.4" height="0.5" fill="#9aa7c4"/><rect x="66" y="25.6" width="1.4" height="2.6" rx="0.5" fill="#2a5fc8"/><rect x="65" y="29" width="3.4" height="0.5" fill="#9aa7c4"/><rect x="24.6" y="33.6" width="2.8" height="29.2" fill="#f4dc2e"/><rect x="28.6" y="33.6" width="39.4" height="29.2" rx="0.8" fill="url(#p12b)"/><rect x="69.2" y="33.6" width="2.6" height="29.2" fill="#ee6aa6"/><text x="46.4" y="46.0" font-size="4.0" font-weight="700" fill="#e6f2ff" text-anchor="middle" letter-spacing="0.1">ケアまる</text><rect x="55.4" y="43.4" width="3.4" height="1.8" rx="0.9" fill="#e6f2ff"/><rect x="34.8" y="50.9" width="27.4" height="3.3" rx="1.65" fill="#3a4fc0" opacity="0.8"/><text x="48.4" y="53.5" font-size="2.0" font-weight="700" fill="#fff" text-anchor="middle" letter-spacing="0.1">急性期ケアを動画でまなぶ</text><rect x="26.3" y="66.2" width="0.5" height="2.6" fill="#2a66d6"/><text x="27.6" y="68.5" font-size="2.4" font-weight="700" fill="#222b3a" text-anchor="start">新着のおすすめ</text><rect x="26.2" y="70.6" width="20.8" height="14.4" fill="#e4e9ec"/><path d="M26.2,78 L42,72 L47,74 V85 H30 Z" fill="#f6f7f5"/><circle cx="31.6" cy="77.4" r="1.3" fill="#e8803a"/><circle cx="34.6" cy="78.8" r="1.4" fill="#3a7fd0"/><circle cx="37.6" cy="80" r="1.7" fill="#2a66d6"/><circle cx="41" cy="81.6" r="1.3" fill="#4fb06a"/><circle cx="43.6" cy="83" r="1.1" fill="#e8c23a"/><rect x="49.4" y="70.6" width="20.8" height="14.4" fill="#14171e"/><circle cx="59.8" cy="77.8" r="2.2" fill="#2f7fe6"/><circle cx="59.8" cy="77.8" r="0.9" fill="#cfe4ff"/><path d="M52,74 H56 L57.6,77 M52,81.6 H56 L57.6,78.6 M67.6,74 H63.6 L62,77 M67.6,81.6 H63.6 L62,78.6" stroke="#5c6675" stroke-width="0.3" fill="none"/><rect x="26.2" y="85.2" width="6" height="0.5" fill="#2a66d6"/><rect x="49.4" y="85.2" width="14" height="0.5" fill="#2a66d6"/><rect x="26.2" y="86.8" width="12" height="0.5" fill="#b9bec6"/><rect x="49.4" y="86.8" width="13" height="0.5" fill="#b9bec6"/><text x="26.2" y="90.6" font-size="2.2" font-weight="700" fill="#222b3a" text-anchor="start">症例集</text><text x="49.4" y="90.6" font-size="2.2" font-weight="700" fill="#222b3a" text-anchor="start" letter-spacing="-0.1">急性期全身管理の基本</text><rect x="38.8" y="93.2" width="19" height="0.7" fill="#8fb6ee"/></g></svg></div>
<div class="icon" style="left:301.5px;top:506px"><svg width="528" height="528" viewBox="0 0 66 66" style="transform:scale(0.125);transform-origin:0 0"><defs><linearGradient id="g13" gradientUnits="userSpaceOnUse" x1="10" y1="14" x2="52" y2="52"><stop offset="0" stop-color="#60bcf0"/><stop offset="0.36" stop-color="#5690ea"/><stop offset="0.62" stop-color="#4e6ae4"/><stop offset="1" stop-color="#4a4fe0"/></linearGradient><linearGradient id="g13a" gradientUnits="userSpaceOnUse" x1="10" y1="14" x2="52" y2="52" gradientTransform="scale(1.3986,1) translate(-8.7,-28.5)"><stop offset="0" stop-color="#60bcf0"/><stop offset="0.36" stop-color="#5690ea"/><stop offset="0.62" stop-color="#4e6ae4"/><stop offset="1" stop-color="#4a4fe0"/></linearGradient><linearGradient id="g13b" gradientUnits="userSpaceOnUse" x1="10" y1="14" x2="52" y2="52" gradientTransform="scale(1.31579,1) translate(-8.7,-49.6)"><stop offset="0" stop-color="#60bcf0"/><stop offset="0.36" stop-color="#5690ea"/><stop offset="0.62" stop-color="#4e6ae4"/><stop offset="1" stop-color="#4a4fe0"/></linearGradient></defs><text transform="translate(8.7,28.5) scale(0.715,1)" font-size="19.6" font-weight="500" letter-spacing="-0.7" fill="url(#g13a)" stroke="url(#g13a)" stroke-width="0.45">ケア</text><text transform="translate(8.7,49.6) scale(0.76,1)" font-size="18.4" font-weight="500" letter-spacing="-0.6" fill="url(#g13b)" stroke="url(#g13b)" stroke-width="0.45">まる</text><path d="M40.9,17.4 L51.6,22.4 L40.9,27.4 Z" fill="url(#g13)" stroke="url(#g13)" stroke-width="1" stroke-linejoin="round"/><rect x="37.8" y="38.3" width="20.3" height="11" rx="5.5" fill="#4b4fe2"/><text x="48.1" y="47.2" font-size="9" font-weight="400" fill="#fff" stroke="#fff" stroke-width="0.7" stroke-linejoin="round" text-anchor="middle" letter-spacing="0.9">Pro</text><text x="48.1" y="47.2" font-size="9" font-weight="400" fill="#4b4fe2" text-anchor="middle" letter-spacing="0.9" opacity="0.6">Pro</text></svg></div><div class="app" style="left:299.3px;top:580px"><span>アプリ付属</span></div>
<div class="abs" style="left:382px;top:502px;z-index:1"><svg width="592" height="832" viewBox="0 0 74 104" style="transform:scale(0.125);transform-origin:0 0"><rect width="74" height="104" fill="#afb6d5"/><path d="M4.9,96 V8.7 Q4.9,4.5 9.1,4.5 H65.1 Q69.3,4.5 69.3,8.7 V96 Z" fill="#fff"/><text x="36.8" y="24.6" font-size="11.2" font-weight="700" fill="#0d2b78" text-anchor="middle" letter-spacing="-0.1" stroke="#0d2b78" stroke-width="0.12">急性期ケア</text><circle cx="23.4" cy="33.0" r="5.6" fill="#05246f"/><text x="23.4" y="35.7" font-size="7.2" font-weight="700" fill="#fff" text-anchor="middle">専</text><circle cx="36.65" cy="33.0" r="5.6" fill="#05246f"/><text x="36.65" y="35.7" font-size="7.2" font-weight="700" fill="#fff" text-anchor="middle">門</text><circle cx="49.9" cy="33.0" r="5.6" fill="#05246f"/><text x="49.9" y="35.7" font-size="7.2" font-weight="700" fill="#fff" text-anchor="middle">士</text><rect x="0" y="42" width="74" height="8.9" fill="#05246f"/><text x="14.8" y="45.9" font-size="2.6" font-weight="900" fill="#fff" text-anchor="start">受験</text><text x="14.8" y="48.9" font-size="2.6" font-weight="900" fill="#fff" text-anchor="start">必修</text><text transform="translate(21.8,49.0) scale(1.13,1)" font-size="6.3" font-weight="900" fill="#fff" letter-spacing="0.25">症例問題集</text><text x="36.1" y="57.8" text-anchor="middle" font-size="6.4" font-weight="900" fill="#aebde0" letter-spacing="0.1">2025<tspan font-size="4.3" dx="0.2">年度版</tspan></text><text x="35.8" y="57.5" text-anchor="middle" font-size="6.4" font-weight="900" fill="#eef2fb" stroke="#8ea8d8" stroke-width="0.42" letter-spacing="0.1">2025<tspan font-size="4.3" dx="0.2">年度版</tspan></text><path d="M9.9,67 V64.6 Q10.2,63.2 12,64.8 M15,67 V64.4 Q15.6,63 16.6,65" stroke="#d9534f" stroke-width="0.5" fill="none"/><path d="M9,67 H16.8 V74 Q16.8,76.4 12.9,76.4 Q9,76.4 9,74 Z" fill="#fbeeee" stroke="#d9534f" stroke-width="0.5"/><path d="M9.4,70.6 H16.4 V74 Q16.4,76 12.9,76 Q9.4,76 9.4,74 Z" fill="#d9413c"/><rect x="10.6" y="71.4" width="4.6" height="3" fill="#f4e9e6"/><path d="M19.2,70.4 Q19.2,65.8 23.6,65.6 Q28.2,65.8 28.2,70.4 Q28.2,75.8 23.8,76.4 Q19.2,75.8 19.2,70.4z" fill="#f2faf9" stroke="#9fd0c6" stroke-width="0.45"/><path d="M21,70.6 Q23.6,67.6 26.4,70.6 Q26,74.2 23.7,74.6 Q21.4,74.2 21,70.6z" fill="#fff" stroke="#bfe2dc" stroke-width="0.35"/><path d="M23.7,74.6 V76.8" stroke="#e58b8b" stroke-width="0.4"/><g transform="rotate(12 36.6 70.6)"><rect x="30.4" y="67" width="13" height="7.4" rx="2" fill="#f3efe2" stroke="#b9b39f" stroke-width="0.35"/><rect x="32" y="68.2" width="8.4" height="3.4" rx="0.7" fill="#1c2a44"/><rect x="33" y="68.9" width="3" height="1.8" fill="#46c6ea"/><rect x="37" y="68.9" width="2.4" height="1.8" fill="#2f7fd8"/><rect x="40.8" y="68.6" width="1.8" height="2.6" rx="0.6" fill="#3d9be0"/></g><path d="M46,67.6 Q46,62.8 49.9,62.8 Q54,62.8 54,67.6" fill="none" stroke="#26262e" stroke-width="0.8"/><rect x="44.8" y="66.6" width="10.4" height="10.4" rx="2.4" fill="#e8502a"/><rect x="46.6" y="70.6" width="6.8" height="3.4" rx="0.6" fill="#f7e3da"/><circle cx="50" cy="68.6" r="0.8" fill="#2b3f8a"/><path d="M56.8,66 Q56.8,62 60.8,61.8 H68.6 Q72.4,62 72.4,66 V75.4 Q72.4,78.6 68.6,78.8 H60.8 Q56.8,78.6 56.8,75.4 Z" fill="#f0672a"/><path d="M56.8,83.6 Q56.8,79.6 60.8,79.4 H68.6 Q72.4,79.6 72.4,83.6 V97 Q72.4,101 68.6,101.2 H60.8 Q56.8,101 56.8,97 Z" fill="#ee6226"/><path d="M57.4,97.4 Q60,102.4 68,101.6 Q72,101 72.4,98" fill="none" stroke="#1e1e26" stroke-width="0.5"/><rect x="58.8" y="64.6" width="8" height="8.6" rx="0.8" fill="#fbf3ee" transform="rotate(-14 62.8 69)"/><rect x="64.4" y="63.6" width="7" height="7.6" rx="0.8" fill="#fdfbf8" stroke="#d9d2cc" stroke-width="0.25" transform="rotate(38 67.9 67.4)"/><rect x="59.4" y="83" width="6.6" height="5.6" rx="0.6" fill="#f9d9c6"/><rect x="60.2" y="83.8" width="5" height="2" fill="#fff3ea"/><rect x="67.4" y="82.6" width="2" height="2.4" fill="#2a2a30"/><circle cx="64.4" cy="91" r="1.6" fill="#ffd7a8" stroke="#fff" stroke-width="0.3"/><rect x="59.8" y="93.4" width="2.2" height="2" fill="#2a2a30"/><circle cx="69" cy="90" r="0.8" fill="#ffe9a8"/><text x="7.8" y="82.5" font-size="3.45" font-weight="900" fill="#0d2b78" text-anchor="start" letter-spacing="-0.22">公式テキストに準じて制作!</text><text x="7.9" y="86.5" font-size="1.9" font-weight="500" fill="#0d2b78" text-anchor="start" letter-spacing="0.08">本番同様の形式で力試しができる!</text><text x="7.9" y="89.45" font-size="1.9" font-weight="500" fill="#0d2b78" text-anchor="start" letter-spacing="0.08">代表的な症例への対応を確認できる!</text><text x="7.9" y="92.4" font-size="1.9" font-weight="500" fill="#0d2b78" text-anchor="start" letter-spacing="0.08">最新の出題基準に合わせて改訂済み!</text><rect x="0" y="94.9" width="74" height="9.1" fill="#05246f"/><path d="M57.2,94.9 V97 Q57.2,101 61,101.2 H68.6 Q72.4,101 72.4,97 V94.9 Z" fill="#ee6226"/><path d="M57.4,97.4 Q60,102.4 68,101.6 Q72,101 72.4,98" fill="none" stroke="#1e1e26" stroke-width="0.5"/><text x="4.4" y="100.5" font-size="2.3" font-weight="700" fill="#fff" text-anchor="start" letter-spacing="0.1">定価 税込</text><rect x="16.7" y="97.6" width="17.000000000000004" height="4.1" fill="#eceef6"/><text x="25.200000000000003" y="100.6" font-size="2.3" font-weight="700" fill="#05246f" text-anchor="middle">2,750円</text><rect x="35" y="97.6" width="17" height="4.1" fill="#eceef6"/><text x="43.5" y="100.6" font-size="2.3" font-weight="700" fill="#05246f" text-anchor="middle">送料無料</text><rect x="53.2" y="97.6" width="16.89999999999999" height="4.1" fill="#eceef6"/><text x="61.65" y="100.6" font-size="2.3" font-weight="700" fill="#05246f" text-anchor="middle">全100問</text></svg></div>
<div class="abs" style="left:514px;top:502px;z-index:1"><svg width="592" height="832" viewBox="0 0 74 104" style="transform:scale(0.125);transform-origin:0 0"><defs><filter id="b14" x="0" y="0" width="100%" height="100%"><feTurbulence type="fractalNoise" baseFrequency="0.5" numOctaves="2" seed="5" result="t"/><feColorMatrix type="matrix" values="0 0 0 0 0.97  0 0 0 0 0.97  0 0 0 0 0.97  1.2 0 0 0 -0.25"/><feComposite operator="in" in2="SourceGraphic"/></filter></defs><rect width="74" height="104" fill="#e9e8e4"/><rect width="74" height="104" fill="#fff" filter="url(#b14)" opacity="0.8"/><path d="M16.2,10 H60.6 L59,15.9 H14.6 Z" fill="#111"/><text x="37.6" y="14.6" font-size="4.4" font-weight="900" fill="#fff" text-anchor="middle" letter-spacing="0.35" stroke="#fff" stroke-width="0.12">急性期ケア専門士</text><text x="37.1" y="24.9" font-size="5.95" font-weight="900" fill="#111" text-anchor="middle" letter-spacing="0.0" stroke="#111" stroke-width="0.22">模擬試験</text><text x="37.2" y="33.3" text-anchor="middle" fill="#111" stroke="#111" stroke-width="0.15" font-weight="900" font-size="3.3"><tspan>第</tspan><tspan font-size="5.6">2</tspan><tspan>回</tspan><tspan font-size="5.3" dx="1.3">問題</tspan></text><text x="36" y="66.6" font-size="1.9" font-weight="700" fill="#222" text-anchor="middle">受験番号　氏名　受験上の注意点</text><rect x="10" y="67.6" width="51.8" height="19" rx="1" fill="none" stroke="#333" stroke-width="0.3"/><text x="11.4" y="70.2" font-size="1.45" font-weight="500" fill="#333" text-anchor="start">1.試験時間は90分です。開始の合図があるまで、この冊子を開かないで</text><text x="11.4" y="72.55" font-size="1.45" font-weight="500" fill="#333" text-anchor="start">ください。解答は解答用紙に記入し、マークシートの記入方法に従って</text><text x="11.4" y="74.9" font-size="1.45" font-weight="500" fill="#333" text-anchor="start">ください。</text><text x="11.4" y="77.25" font-size="1.45" font-weight="500" fill="#333" text-anchor="start">2.問題は全部で100問あり、すべて四肢択一の形式で出題されます。</text><text x="11.4" y="79.60000000000001" font-size="1.45" font-weight="500" fill="#333" text-anchor="start">3.試験中の途中退室は認められません。</text><text x="11.4" y="81.95" font-size="1.45" font-weight="500" fill="#333" text-anchor="start">4.試験終了の合図があったら、直ちに筆記用具を置き係員の指示に従って</text><text x="11.4" y="84.30000000000001" font-size="1.45" font-weight="500" fill="#333" text-anchor="start">ください。</text><g transform="translate(24,97.3)"><path d="M0.5,-3.9 L4.3,-3.9 L4.3,-1 Q4.3,0.6 2.4,1.5 Q0.5,0.6 0.5,-1 Z" fill="#222"/><path d="M-0.6,-4.3 L5.4,-4.3 L4.9,-3.4 L-0.1,-3.4 Z" fill="#222"/><path d="M1.5,-2.8 H3.3 V-0.8 Q3.3,-0.2 2.4,0.4 Q1.5,-0.2 1.5,-0.8 Z" fill="#dcdcdc"/><text x="4.6" y="0.1" font-size="5.5" font-weight="700" fill="#222" text-anchor="start" letter-spacing="-0.05" stroke="#222" stroke-width="0.1">ASTICK</text><text x="6.4" y="2.1" font-size="1.3" font-weight="700" fill="#444" text-anchor="start" letter-spacing="0.05">MEDICAL EDUCATION</text></g></svg></div>
<div class="abs" style="left:466px;top:506px;z-index:2"><svg width="592" height="832" viewBox="0 0 74 104" style="transform:scale(0.125);transform-origin:0 0"><defs><filter id="b15" x="0" y="0" width="100%" height="100%"><feTurbulence type="fractalNoise" baseFrequency="0.5" numOctaves="2" seed="4" result="t"/><feColorMatrix type="matrix" values="0 0 0 0 0.97  0 0 0 0 0.97  0 0 0 0 0.97  1.2 0 0 0 -0.25"/><feComposite operator="in" in2="SourceGraphic"/></filter></defs><rect width="74" height="104" fill="#e0e0e0"/><rect width="74" height="104" fill="#fff" filter="url(#b15)" opacity="0.8"/><path d="M16.2,10 H60.6 L59,15.9 H14.6 Z" fill="#111"/><text x="37.6" y="14.6" font-size="4.4" font-weight="900" fill="#fff" text-anchor="middle" letter-spacing="0.35" stroke="#fff" stroke-width="0.12">急性期ケア専門士</text><text x="37.1" y="24.9" font-size="5.95" font-weight="900" fill="#111" text-anchor="middle" letter-spacing="0.0" stroke="#111" stroke-width="0.22">模擬試験</text><text x="37.2" y="33.3" text-anchor="middle" fill="#111" stroke="#111" stroke-width="0.15" font-weight="900" font-size="3.3"><tspan>第</tspan><tspan font-size="5.6">1</tspan><tspan>回</tspan><tspan font-size="5.3" dx="1.3">問題</tspan></text><text x="36" y="66.6" font-size="1.9" font-weight="700" fill="#222" text-anchor="middle">受験番号　氏名　受験上の注意点</text><rect x="10" y="67.6" width="51.8" height="19" rx="1" fill="none" stroke="#333" stroke-width="0.3"/><text x="11.4" y="70.2" font-size="1.45" font-weight="500" fill="#333" text-anchor="start">1.試験時間は90分です。開始の合図があるまで、この冊子を開かないで</text><text x="11.4" y="72.55" font-size="1.45" font-weight="500" fill="#333" text-anchor="start">ください。解答は解答用紙に記入し、マークシートの記入方法に従って</text><text x="11.4" y="74.9" font-size="1.45" font-weight="500" fill="#333" text-anchor="start">ください。</text><text x="11.4" y="77.25" font-size="1.45" font-weight="500" fill="#333" text-anchor="start">2.問題は全部で100問あり、すべて四肢択一の形式で出題されます。</text><text x="11.4" y="79.60000000000001" font-size="1.45" font-weight="500" fill="#333" text-anchor="start">3.試験中の途中退室は認められません。</text><text x="11.4" y="81.95" font-size="1.45" font-weight="500" fill="#333" text-anchor="start">4.試験終了の合図があったら、直ちに筆記用具を置き係員の指示に従って</text><text x="11.4" y="84.30000000000001" font-size="1.45" font-weight="500" fill="#333" text-anchor="start">ください。</text><g transform="translate(24,97.3)"><path d="M0.5,-3.9 L4.3,-3.9 L4.3,-1 Q4.3,0.6 2.4,1.5 Q0.5,0.6 0.5,-1 Z" fill="#222"/><path d="M-0.6,-4.3 L5.4,-4.3 L4.9,-3.4 L-0.1,-3.4 Z" fill="#222"/><path d="M1.5,-2.8 H3.3 V-0.8 Q3.3,-0.2 2.4,0.4 Q1.5,-0.2 1.5,-0.8 Z" fill="#dcdcdc"/><text x="4.6" y="0.1" font-size="5.5" font-weight="700" fill="#222" text-anchor="start" letter-spacing="-0.05" stroke="#222" stroke-width="0.1">ASTICK</text><text x="6.4" y="2.1" font-size="1.3" font-weight="700" fill="#444" text-anchor="start" letter-spacing="0.05">MEDICAL EDUCATION</text></g></svg></div>
</div>
</body>
</html>
